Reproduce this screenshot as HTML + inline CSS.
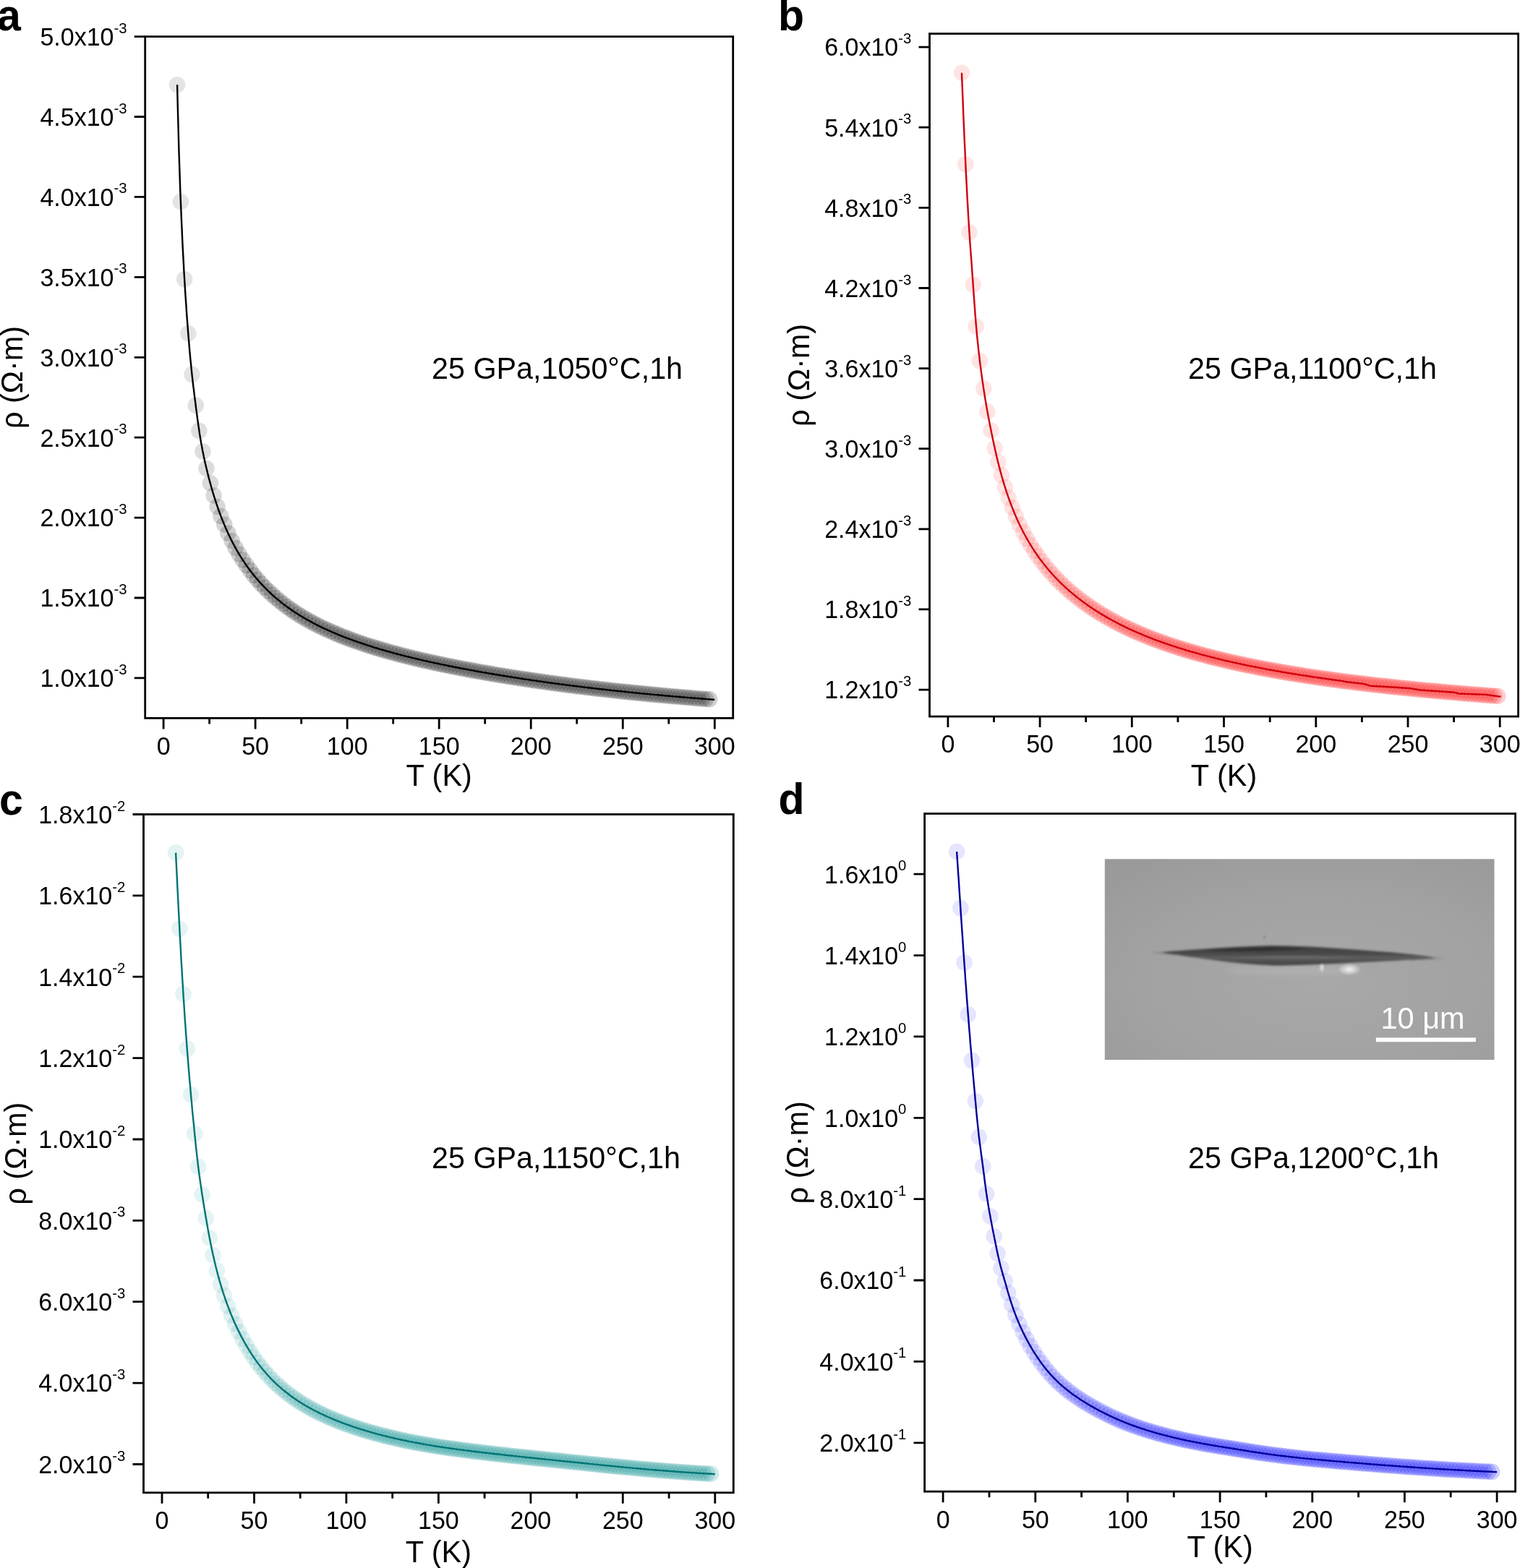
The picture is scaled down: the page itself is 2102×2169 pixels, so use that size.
<!DOCTYPE html>
<html><head><meta charset="utf-8"><title>Resistivity vs temperature</title><style>html,body{margin:0;padding:0;background:#fff;}svg{display:block;}</style></head><body>
<svg xmlns="http://www.w3.org/2000/svg" width="2102" height="2169" viewBox="0 0 2102 2169">
<rect width="2102" height="2169" fill="#fff"/>
<g fill="#000000">
<circle cx="245.1" cy="117.2" r="11.3" fill-opacity="0.105"/>
<circle cx="249.9" cy="279.0" r="11.3" fill-opacity="0.105"/>
<circle cx="255.1" cy="386.3" r="11.3" fill-opacity="0.105"/>
<circle cx="260.3" cy="461.2" r="11.3" fill-opacity="0.105"/>
<circle cx="265.4" cy="517.9" r="11.3" fill-opacity="0.107"/>
<circle cx="270.8" cy="560.8" r="11.3" fill-opacity="0.117"/>
<circle cx="275.3" cy="595.9" r="11.3" fill-opacity="0.124"/>
<circle cx="280.5" cy="624.6" r="11.3" fill-opacity="0.131"/>
<circle cx="285.5" cy="648.1" r="11.3" fill-opacity="0.137"/>
<circle cx="290.9" cy="668.4" r="11.3" fill-opacity="0.144"/>
<circle cx="295.6" cy="685.4" r="11.3" fill-opacity="0.149"/>
<circle cx="300.6" cy="701.0" r="11.3" fill-opacity="0.154"/>
<circle cx="305.4" cy="714.0" r="11.3" fill-opacity="0.158"/>
<circle cx="310.3" cy="725.6" r="11.3" fill-opacity="0.163"/>
<circle cx="315.4" cy="737.6" r="11.3" fill-opacity="0.167"/>
<circle cx="320.5" cy="748.1" r="11.3" fill-opacity="0.171"/>
<circle cx="325.5" cy="757.7" r="11.3" fill-opacity="0.175"/>
<circle cx="330.6" cy="766.5" r="11.3" fill-opacity="0.178"/>
<circle cx="335.7" cy="774.6" r="11.3" fill-opacity="0.182"/>
<circle cx="340.8" cy="782.1" r="11.3" fill-opacity="0.185"/>
<circle cx="345.9" cy="789.1" r="11.3" fill-opacity="0.185"/>
<circle cx="351.0" cy="795.7" r="11.3" fill-opacity="0.185"/>
<circle cx="356.0" cy="801.7" r="11.3" fill-opacity="0.185"/>
<circle cx="361.1" cy="807.4" r="11.3" fill-opacity="0.185"/>
<circle cx="366.2" cy="812.8" r="11.3" fill-opacity="0.185"/>
<circle cx="371.3" cy="817.8" r="11.3" fill-opacity="0.185"/>
<circle cx="376.4" cy="822.6" r="11.3" fill-opacity="0.185"/>
<circle cx="381.4" cy="827.1" r="11.3" fill-opacity="0.185"/>
<circle cx="386.5" cy="831.3" r="11.3" fill-opacity="0.185"/>
<circle cx="391.6" cy="835.3" r="11.3" fill-opacity="0.185"/>
<circle cx="396.7" cy="839.2" r="11.3" fill-opacity="0.185"/>
<circle cx="401.8" cy="842.8" r="11.3" fill-opacity="0.185"/>
<circle cx="406.8" cy="846.2" r="11.3" fill-opacity="0.185"/>
<circle cx="411.9" cy="849.5" r="11.3" fill-opacity="0.185"/>
<circle cx="417.0" cy="852.7" r="11.3" fill-opacity="0.185"/>
<circle cx="422.1" cy="855.7" r="11.3" fill-opacity="0.185"/>
<circle cx="427.2" cy="858.6" r="11.3" fill-opacity="0.185"/>
<circle cx="432.2" cy="861.3" r="11.3" fill-opacity="0.185"/>
<circle cx="437.3" cy="864.0" r="11.3" fill-opacity="0.185"/>
<circle cx="442.4" cy="866.5" r="11.3" fill-opacity="0.185"/>
<circle cx="447.5" cy="869.0" r="11.3" fill-opacity="0.185"/>
<circle cx="452.6" cy="871.3" r="11.3" fill-opacity="0.185"/>
<circle cx="457.7" cy="873.6" r="11.3" fill-opacity="0.185"/>
<circle cx="462.7" cy="875.8" r="11.3" fill-opacity="0.185"/>
<circle cx="467.8" cy="877.9" r="11.3" fill-opacity="0.185"/>
<circle cx="472.9" cy="880.0" r="11.3" fill-opacity="0.185"/>
<circle cx="478.0" cy="881.9" r="11.3" fill-opacity="0.185"/>
<circle cx="483.1" cy="883.9" r="11.3" fill-opacity="0.185"/>
<circle cx="488.1" cy="885.7" r="11.3" fill-opacity="0.185"/>
<circle cx="493.2" cy="887.5" r="11.3" fill-opacity="0.185"/>
<circle cx="498.3" cy="889.3" r="11.3" fill-opacity="0.185"/>
<circle cx="503.4" cy="891.0" r="11.3" fill-opacity="0.185"/>
<circle cx="508.5" cy="892.7" r="11.3" fill-opacity="0.185"/>
<circle cx="513.5" cy="894.3" r="11.3" fill-opacity="0.185"/>
<circle cx="518.6" cy="895.9" r="11.3" fill-opacity="0.185"/>
<circle cx="523.7" cy="897.4" r="11.3" fill-opacity="0.185"/>
<circle cx="528.8" cy="898.9" r="11.3" fill-opacity="0.185"/>
<circle cx="533.9" cy="900.4" r="11.3" fill-opacity="0.185"/>
<circle cx="539.0" cy="901.8" r="11.3" fill-opacity="0.185"/>
<circle cx="544.0" cy="903.2" r="11.3" fill-opacity="0.185"/>
<circle cx="549.1" cy="904.6" r="11.3" fill-opacity="0.185"/>
<circle cx="554.2" cy="905.9" r="11.3" fill-opacity="0.185"/>
<circle cx="559.3" cy="907.2" r="11.3" fill-opacity="0.185"/>
<circle cx="564.4" cy="908.5" r="11.3" fill-opacity="0.185"/>
<circle cx="569.4" cy="909.7" r="11.3" fill-opacity="0.185"/>
<circle cx="574.5" cy="911.0" r="11.3" fill-opacity="0.185"/>
<circle cx="579.6" cy="912.2" r="11.3" fill-opacity="0.185"/>
<circle cx="584.7" cy="913.4" r="11.3" fill-opacity="0.185"/>
<circle cx="589.8" cy="914.5" r="11.3" fill-opacity="0.185"/>
<circle cx="594.9" cy="915.6" r="11.3" fill-opacity="0.185"/>
<circle cx="599.9" cy="916.8" r="11.3" fill-opacity="0.185"/>
<circle cx="605.0" cy="917.9" r="11.3" fill-opacity="0.185"/>
<circle cx="610.1" cy="918.9" r="11.3" fill-opacity="0.185"/>
<circle cx="615.2" cy="920.0" r="11.3" fill-opacity="0.185"/>
<circle cx="620.3" cy="921.0" r="11.3" fill-opacity="0.185"/>
<circle cx="625.3" cy="922.1" r="11.3" fill-opacity="0.185"/>
<circle cx="630.4" cy="923.1" r="11.3" fill-opacity="0.185"/>
<circle cx="635.5" cy="924.0" r="11.3" fill-opacity="0.185"/>
<circle cx="640.6" cy="925.0" r="11.3" fill-opacity="0.185"/>
<circle cx="645.7" cy="926.0" r="11.3" fill-opacity="0.185"/>
<circle cx="650.7" cy="926.9" r="11.3" fill-opacity="0.185"/>
<circle cx="655.8" cy="927.9" r="11.3" fill-opacity="0.185"/>
<circle cx="660.9" cy="928.8" r="11.3" fill-opacity="0.185"/>
<circle cx="666.0" cy="929.7" r="11.3" fill-opacity="0.185"/>
<circle cx="671.1" cy="930.6" r="11.3" fill-opacity="0.185"/>
<circle cx="676.1" cy="931.4" r="11.3" fill-opacity="0.185"/>
<circle cx="681.2" cy="932.3" r="11.3" fill-opacity="0.185"/>
<circle cx="686.3" cy="933.2" r="11.3" fill-opacity="0.185"/>
<circle cx="691.4" cy="934.0" r="11.3" fill-opacity="0.185"/>
<circle cx="696.5" cy="934.8" r="11.3" fill-opacity="0.185"/>
<circle cx="701.6" cy="935.7" r="11.3" fill-opacity="0.185"/>
<circle cx="706.6" cy="936.5" r="11.3" fill-opacity="0.185"/>
<circle cx="711.7" cy="937.3" r="11.3" fill-opacity="0.185"/>
<circle cx="716.8" cy="938.1" r="11.3" fill-opacity="0.185"/>
<circle cx="721.9" cy="938.8" r="11.3" fill-opacity="0.185"/>
<circle cx="727.0" cy="939.6" r="11.3" fill-opacity="0.185"/>
<circle cx="732.0" cy="940.4" r="11.3" fill-opacity="0.185"/>
<circle cx="737.1" cy="941.1" r="11.3" fill-opacity="0.185"/>
<circle cx="742.2" cy="941.9" r="11.3" fill-opacity="0.185"/>
<circle cx="747.3" cy="942.6" r="11.3" fill-opacity="0.185"/>
<circle cx="752.4" cy="943.3" r="11.3" fill-opacity="0.185"/>
<circle cx="757.5" cy="944.0" r="11.3" fill-opacity="0.185"/>
<circle cx="762.5" cy="944.7" r="11.3" fill-opacity="0.185"/>
<circle cx="767.6" cy="945.4" r="11.3" fill-opacity="0.185"/>
<circle cx="772.7" cy="946.1" r="11.3" fill-opacity="0.185"/>
<circle cx="777.8" cy="946.8" r="11.3" fill-opacity="0.185"/>
<circle cx="782.9" cy="947.4" r="11.3" fill-opacity="0.185"/>
<circle cx="787.9" cy="948.1" r="11.3" fill-opacity="0.185"/>
<circle cx="793.0" cy="948.7" r="11.3" fill-opacity="0.185"/>
<circle cx="798.1" cy="949.4" r="11.3" fill-opacity="0.185"/>
<circle cx="803.2" cy="950.0" r="11.3" fill-opacity="0.185"/>
<circle cx="808.3" cy="950.6" r="11.3" fill-opacity="0.185"/>
<circle cx="813.3" cy="951.2" r="11.3" fill-opacity="0.185"/>
<circle cx="818.4" cy="951.8" r="11.3" fill-opacity="0.185"/>
<circle cx="823.5" cy="952.4" r="11.3" fill-opacity="0.185"/>
<circle cx="828.6" cy="953.0" r="11.3" fill-opacity="0.185"/>
<circle cx="833.7" cy="953.6" r="11.3" fill-opacity="0.185"/>
<circle cx="838.8" cy="954.1" r="11.3" fill-opacity="0.185"/>
<circle cx="843.8" cy="954.7" r="11.3" fill-opacity="0.185"/>
<circle cx="848.9" cy="955.3" r="11.3" fill-opacity="0.185"/>
<circle cx="854.0" cy="955.8" r="11.3" fill-opacity="0.185"/>
<circle cx="859.1" cy="956.4" r="11.3" fill-opacity="0.185"/>
<circle cx="864.2" cy="956.9" r="11.3" fill-opacity="0.185"/>
<circle cx="869.2" cy="957.4" r="11.3" fill-opacity="0.185"/>
<circle cx="874.3" cy="957.9" r="11.3" fill-opacity="0.185"/>
<circle cx="879.4" cy="958.4" r="11.3" fill-opacity="0.185"/>
<circle cx="884.5" cy="958.9" r="11.3" fill-opacity="0.185"/>
<circle cx="889.6" cy="959.4" r="11.3" fill-opacity="0.185"/>
<circle cx="894.6" cy="959.9" r="11.3" fill-opacity="0.185"/>
<circle cx="899.7" cy="960.4" r="11.3" fill-opacity="0.185"/>
<circle cx="904.8" cy="960.9" r="11.3" fill-opacity="0.185"/>
<circle cx="909.9" cy="961.4" r="11.3" fill-opacity="0.185"/>
<circle cx="915.0" cy="961.8" r="11.3" fill-opacity="0.185"/>
<circle cx="920.0" cy="962.3" r="11.3" fill-opacity="0.185"/>
<circle cx="925.1" cy="962.7" r="11.3" fill-opacity="0.185"/>
<circle cx="930.2" cy="963.2" r="11.3" fill-opacity="0.185"/>
<circle cx="935.3" cy="963.6" r="11.3" fill-opacity="0.185"/>
<circle cx="940.4" cy="964.1" r="11.3" fill-opacity="0.185"/>
<circle cx="945.5" cy="964.5" r="11.3" fill-opacity="0.185"/>
<circle cx="950.5" cy="964.9" r="11.3" fill-opacity="0.185"/>
<circle cx="955.6" cy="965.3" r="11.3" fill-opacity="0.185"/>
<circle cx="960.7" cy="965.8" r="11.3" fill-opacity="0.185"/>
<circle cx="965.8" cy="966.2" r="11.3" fill-opacity="0.185"/>
<circle cx="970.9" cy="966.6" r="11.3" fill-opacity="0.185"/>
<circle cx="975.9" cy="967.0" r="11.3" fill-opacity="0.185"/>
<circle cx="981.0" cy="967.3" r="11.3" fill-opacity="0.185"/>
</g>
<polyline fill="none" stroke="#000000" stroke-width="2.4" stroke-linejoin="round" points="245.1,117.2 245.7,144.4 246.4,169.5 247.0,192.6 247.6,214.0 248.3,233.9 248.9,252.4 249.5,269.8 250.2,286.1 250.8,301.4 251.5,315.9 252.1,329.7 252.7,342.7 253.4,355.1 254.0,366.9 254.6,378.2 255.3,389.0 255.9,399.3 256.5,409.3 257.2,418.8 257.8,428.1 258.4,437.0 259.1,445.6 259.7,453.9 260.3,462.0 261.0,469.8 261.6,477.4 262.2,484.8 262.9,491.8 263.5,498.7 264.2,505.2 264.8,511.5 265.4,517.5 266.1,523.3 266.7,528.8 267.3,534.2 268.0,539.4 268.6,544.6 269.2,549.6 269.9,554.6 270.5,559.5 271.1,564.5 271.8,569.4 272.4,574.2 273.0,579.0 273.7,583.7 274.3,588.2 275.0,592.6 275.6,596.9 276.2,601.0 276.9,604.9 277.5,608.7 278.1,612.4 278.8,615.9 279.4,619.3 280.0,622.7 280.7,625.9 281.3,629.0 281.9,632.0 282.6,635.0 283.2,637.9 283.8,640.7 284.5,643.5 285.1,646.2 285.8,648.9 286.4,651.5 287.0,654.1 287.7,656.6 288.3,659.1 288.9,661.6 289.6,664.0 290.2,666.4 290.8,668.7 291.5,671.0 292.1,673.3 292.7,675.5 293.4,677.7 294.0,679.9 294.6,682.0 295.3,684.1 295.9,686.2 296.5,688.2 297.2,690.2 297.8,692.2 298.5,694.2 299.1,696.1 299.7,698.0 300.4,699.9 301.0,701.7 301.6,703.5 302.3,705.3 302.9,707.1 303.5,708.8 304.2,710.6 304.8,712.3 305.4,713.9 306.1,715.6 306.7,717.2 307.3,718.8 308.0,720.4 308.6,722.0 309.3,723.6 309.9,725.1 310.5,726.6 311.2,728.1 311.8,729.6 312.4,731.0 313.1,732.5 313.7,733.9 314.3,735.3 315.0,736.7 315.6,738.1 316.2,739.4 316.9,740.8 317.5,742.1 318.1,743.4 318.8,744.7 319.4,746.0 320.0,747.3 320.7,748.5 321.3,749.8 322.0,751.0 322.6,752.2 323.2,753.4 323.9,754.6 324.5,755.8 325.1,756.9 325.8,758.1 326.4,759.2 327.0,760.3 327.7,761.4 327.7,761.6 330.3,765.9 332.8,770.1 335.4,774.1 337.9,777.9 340.4,781.6 343.0,785.2 345.5,788.7 348.1,792.0 350.6,795.2 353.1,798.3 355.7,801.3 358.2,804.2 360.8,807.1 363.3,809.8 365.8,812.4 368.4,815.0 370.9,817.5 373.5,819.9 376.0,822.3 378.5,824.5 381.1,826.8 383.6,828.9 386.2,831.0 388.7,833.1 391.2,835.1 393.8,837.0 396.3,838.9 398.9,840.7 401.4,842.5 403.9,844.3 406.5,846.0 409.0,847.7 411.6,849.3 414.1,850.9 416.7,852.5 419.2,854.0 421.7,855.5 424.3,857.0 426.8,858.4 429.4,859.8 431.9,861.1 434.4,862.5 437.0,863.8 439.5,865.1 442.1,866.3 444.6,867.6 447.1,868.8 449.7,870.0 452.2,871.2 454.8,872.3 457.3,873.4 459.8,874.5 462.4,875.6 464.9,876.7 467.5,877.8 470.0,878.8 472.5,879.8 475.1,880.8 477.6,881.8 480.2,882.8 482.7,883.7 485.2,884.7 487.8,885.6 490.3,886.5 492.9,887.4 495.4,888.3 498.0,889.2 500.5,890.0 503.0,890.9 505.6,891.7 508.1,892.6 510.7,893.4 513.2,894.2 515.7,895.0 518.3,895.8 520.8,896.5 523.4,897.3 525.9,898.1 528.4,898.8 531.0,899.5 533.5,900.3 536.1,901.0 538.6,901.7 541.1,902.4 543.7,903.1 546.2,903.8 548.8,904.5 551.3,905.1 553.8,905.8 556.4,906.5 558.9,907.1 561.5,907.8 564.0,908.4 566.5,909.0 569.1,909.7 571.6,910.3 574.2,910.9 576.7,911.5 579.3,912.1 581.8,912.7 584.3,913.3 586.9,913.9 589.4,914.4 592.0,915.0 594.5,915.6 597.0,916.1 599.6,916.7 602.1,917.2 604.7,917.8 607.2,918.3 609.7,918.9 612.3,919.4 614.8,919.9 617.4,920.4 619.9,921.0 622.4,921.5 625.0,922.0 627.5,922.5 630.1,923.0 632.6,923.5 635.1,924.0 637.7,924.5 640.2,925.0 642.8,925.4 645.3,925.9 647.8,926.4 650.4,926.9 652.9,927.3 655.5,927.8 658.0,928.3 660.6,928.7 663.1,929.2 665.6,929.6 668.2,930.1 670.7,930.5 673.3,930.9 675.8,931.4 678.3,931.8 680.9,932.3 683.4,932.7 686.0,933.1 688.5,933.5 691.0,934.0 693.6,934.4 696.1,934.8 698.7,935.2 701.2,935.6 703.7,936.0 706.3,936.4 708.8,936.8 711.4,937.2 713.9,937.6 716.4,938.0 719.0,938.4 721.5,938.8 724.1,939.2 726.6,939.6 729.2,939.9 731.7,940.3 734.2,940.7 736.8,941.1 739.3,941.4 741.9,941.8 744.4,942.2 746.9,942.5 749.5,942.9 752.0,943.3 754.6,943.6 757.1,944.0 759.6,944.3 762.2,944.7 764.7,945.0 767.3,945.4 769.8,945.7 772.3,946.0 774.9,946.4 777.4,946.7 780.0,947.0 782.5,947.4 785.0,947.7 787.6,948.0 790.1,948.4 792.7,948.7 795.2,949.0 797.7,949.3 800.3,949.6 802.8,949.9 805.4,950.3 807.9,950.6 810.5,950.9 813.0,951.2 815.5,951.5 818.1,951.8 820.6,952.1 823.2,952.4 825.7,952.7 828.2,953.0 830.8,953.2 833.3,953.5 835.9,953.8 838.4,954.1 840.9,954.4 843.5,954.7 846.0,955.0 848.6,955.2 851.1,955.5 853.6,955.8 856.2,956.0 858.7,956.3 861.3,956.6 863.8,956.8 866.3,957.1 868.9,957.4 871.4,957.6 874.0,957.9 876.5,958.2 879.0,958.4 881.6,958.7 884.1,958.9 886.7,959.2 889.2,959.4 891.8,959.7 894.3,959.9 896.8,960.1 899.4,960.4 901.9,960.6 904.5,960.9 907.0,961.1 909.5,961.3 912.1,961.6 914.6,961.8 917.2,962.0 919.7,962.3 922.2,962.5 924.8,962.7 927.3,962.9 929.9,963.2 932.4,963.4 934.9,963.6 937.5,963.8 940.0,964.0 942.6,964.3 945.1,964.5 947.6,964.7 950.2,964.9 952.7,965.1 955.3,965.3 957.8,965.5 960.3,965.7 962.9,965.9 965.4,966.1 968.0,966.3 970.5,966.5 973.0,966.7 975.6,966.9 978.1,967.1 980.7,967.3 983.2,967.5 985.8,967.7 988.3,967.9"/>
<rect x="200.7" y="50.6" width="813.0" height="942.8" fill="none" stroke="#000" stroke-width="2.8"/>
<path d="M226.1 993.4V1008.4M289.6 993.4V1001.4M353.1 993.4V1008.4M416.7 993.4V1001.4M480.2 993.4V1008.4M543.7 993.4V1001.4M607.2 993.4V1008.4M670.7 993.4V1001.4M734.2 993.4V1008.4M797.7 993.4V1001.4M861.3 993.4V1008.4M924.8 993.4V1001.4M988.3 993.4V1008.4M200.7 937.9H185.7M200.7 827.0H185.7M200.7 716.1H185.7M200.7 605.2H185.7M200.7 494.3H185.7M200.7 383.4H185.7M200.7 272.4H185.7M200.7 161.5H185.7M200.7 50.6H185.7" stroke="#000" stroke-width="2.8" fill="none"/>
<g font-family='"Liberation Sans", Arial, "Noto Sans CJK SC", sans-serif' font-size="34" fill="#000" text-anchor="middle">
<text transform="translate(226.1 1043.7) scale(1 1.040)">0</text>
<text transform="translate(353.1 1043.7) scale(1 1.040)">50</text>
<text transform="translate(480.2 1043.7) scale(1 1.040)">100</text>
<text transform="translate(607.2 1043.7) scale(1 1.040)">150</text>
<text transform="translate(734.2 1043.7) scale(1 1.040)">200</text>
<text transform="translate(861.3 1043.7) scale(1 1.040)">250</text>
<text transform="translate(988.3 1043.7) scale(1 1.040)">300</text>
</g>
<g font-family='"Liberation Sans", Arial, "Noto Sans CJK SC", sans-serif' font-size="34" fill="#000" text-anchor="end">
<text transform="translate(175.5 950.2) scale(1 1.040)">1.0x10<tspan font-size="20.3" dy="-16.6">-3</tspan></text>
<text transform="translate(175.5 839.3) scale(1 1.040)">1.5x10<tspan font-size="20.3" dy="-16.6">-3</tspan></text>
<text transform="translate(175.5 728.4) scale(1 1.040)">2.0x10<tspan font-size="20.3" dy="-16.6">-3</tspan></text>
<text transform="translate(175.5 617.5) scale(1 1.040)">2.5x10<tspan font-size="20.3" dy="-16.6">-3</tspan></text>
<text transform="translate(175.5 506.6) scale(1 1.040)">3.0x10<tspan font-size="20.3" dy="-16.6">-3</tspan></text>
<text transform="translate(175.5 395.7) scale(1 1.040)">3.5x10<tspan font-size="20.3" dy="-16.6">-3</tspan></text>
<text transform="translate(175.5 284.7) scale(1 1.040)">4.0x10<tspan font-size="20.3" dy="-16.6">-3</tspan></text>
<text transform="translate(175.5 173.8) scale(1 1.040)">4.5x10<tspan font-size="20.3" dy="-16.6">-3</tspan></text>
<text transform="translate(175.5 62.9) scale(1 1.040)">5.0x10<tspan font-size="20.3" dy="-16.6">-3</tspan></text>
</g>
<text transform="translate(607.2 1086.9) scale(1 1.040)" font-family='"Liberation Sans", Arial, "Noto Sans CJK SC", sans-serif' font-size="41.5" text-anchor="middle">T (K)</text>
<text transform="translate(31.1 522.0) rotate(-90) scale(1 1.040)" font-family='"Liberation Sans", Arial, "Noto Sans CJK SC", sans-serif' font-size="41.5" text-anchor="middle">ρ (Ω·m)</text>
<text transform="translate(597.0 524.0) scale(1 1.040)" font-family='"Liberation Sans", Arial, "Noto Sans CJK SC", sans-serif' font-size="41.3">25 GPa,1050°C,1h</text>
<text transform="translate(-4.0 42.0) scale(1 1.040)" font-family='"Liberation Sans", Arial, "Noto Sans CJK SC", sans-serif' font-size="59" font-weight="bold">a</text>
<g fill="#ff0000">
<circle cx="1330.0" cy="100.8" r="11.3" fill-opacity="0.105"/>
<circle cx="1335.3" cy="227.2" r="11.3" fill-opacity="0.105"/>
<circle cx="1340.5" cy="321.2" r="11.3" fill-opacity="0.105"/>
<circle cx="1345.7" cy="393.7" r="11.3" fill-opacity="0.105"/>
<circle cx="1350.0" cy="451.8" r="11.3" fill-opacity="0.105"/>
<circle cx="1354.9" cy="499.2" r="11.3" fill-opacity="0.105"/>
<circle cx="1360.4" cy="537.4" r="11.3" fill-opacity="0.105"/>
<circle cx="1365.3" cy="569.4" r="11.3" fill-opacity="0.105"/>
<circle cx="1370.5" cy="595.5" r="11.3" fill-opacity="0.105"/>
<circle cx="1375.8" cy="620.0" r="11.3" fill-opacity="0.105"/>
<circle cx="1380.3" cy="639.6" r="11.3" fill-opacity="0.105"/>
<circle cx="1384.9" cy="657.6" r="11.3" fill-opacity="0.105"/>
<circle cx="1389.8" cy="673.9" r="11.3" fill-opacity="0.107"/>
<circle cx="1394.7" cy="688.6" r="11.3" fill-opacity="0.110"/>
<circle cx="1399.8" cy="702.1" r="11.3" fill-opacity="0.113"/>
<circle cx="1404.9" cy="714.5" r="11.3" fill-opacity="0.116"/>
<circle cx="1410.0" cy="725.7" r="11.3" fill-opacity="0.119"/>
<circle cx="1415.1" cy="735.9" r="11.3" fill-opacity="0.121"/>
<circle cx="1420.1" cy="745.3" r="11.3" fill-opacity="0.124"/>
<circle cx="1425.2" cy="753.9" r="11.3" fill-opacity="0.126"/>
<circle cx="1430.3" cy="761.9" r="11.3" fill-opacity="0.129"/>
<circle cx="1435.4" cy="769.4" r="11.3" fill-opacity="0.131"/>
<circle cx="1440.5" cy="776.4" r="11.3" fill-opacity="0.133"/>
<circle cx="1445.6" cy="782.9" r="11.3" fill-opacity="0.135"/>
<circle cx="1450.7" cy="789.0" r="11.3" fill-opacity="0.137"/>
<circle cx="1455.8" cy="794.8" r="11.3" fill-opacity="0.139"/>
<circle cx="1460.8" cy="800.2" r="11.3" fill-opacity="0.141"/>
<circle cx="1465.9" cy="805.4" r="11.3" fill-opacity="0.142"/>
<circle cx="1471.0" cy="810.3" r="11.3" fill-opacity="0.144"/>
<circle cx="1476.1" cy="815.0" r="11.3" fill-opacity="0.146"/>
<circle cx="1481.2" cy="819.4" r="11.3" fill-opacity="0.147"/>
<circle cx="1486.3" cy="823.6" r="11.3" fill-opacity="0.149"/>
<circle cx="1491.4" cy="827.7" r="11.3" fill-opacity="0.150"/>
<circle cx="1496.5" cy="831.6" r="11.3" fill-opacity="0.152"/>
<circle cx="1501.6" cy="835.3" r="11.3" fill-opacity="0.153"/>
<circle cx="1506.6" cy="838.9" r="11.3" fill-opacity="0.155"/>
<circle cx="1511.7" cy="842.3" r="11.3" fill-opacity="0.156"/>
<circle cx="1516.8" cy="845.6" r="11.3" fill-opacity="0.157"/>
<circle cx="1521.9" cy="848.8" r="11.3" fill-opacity="0.159"/>
<circle cx="1527.0" cy="851.8" r="11.3" fill-opacity="0.160"/>
<circle cx="1532.1" cy="854.8" r="11.3" fill-opacity="0.161"/>
<circle cx="1537.2" cy="857.6" r="11.3" fill-opacity="0.162"/>
<circle cx="1542.3" cy="860.3" r="11.3" fill-opacity="0.164"/>
<circle cx="1547.3" cy="863.0" r="11.3" fill-opacity="0.165"/>
<circle cx="1552.4" cy="865.5" r="11.3" fill-opacity="0.166"/>
<circle cx="1557.5" cy="868.0" r="11.3" fill-opacity="0.167"/>
<circle cx="1562.6" cy="870.4" r="11.3" fill-opacity="0.168"/>
<circle cx="1567.7" cy="872.7" r="11.3" fill-opacity="0.169"/>
<circle cx="1572.8" cy="875.0" r="11.3" fill-opacity="0.170"/>
<circle cx="1577.9" cy="877.1" r="11.3" fill-opacity="0.171"/>
<circle cx="1583.0" cy="879.3" r="11.3" fill-opacity="0.172"/>
<circle cx="1588.0" cy="881.3" r="11.3" fill-opacity="0.173"/>
<circle cx="1593.1" cy="883.3" r="11.3" fill-opacity="0.174"/>
<circle cx="1598.2" cy="885.2" r="11.3" fill-opacity="0.175"/>
<circle cx="1603.3" cy="887.1" r="11.3" fill-opacity="0.176"/>
<circle cx="1608.4" cy="888.9" r="11.3" fill-opacity="0.177"/>
<circle cx="1613.5" cy="890.7" r="11.3" fill-opacity="0.178"/>
<circle cx="1618.6" cy="892.5" r="11.3" fill-opacity="0.179"/>
<circle cx="1623.7" cy="894.1" r="11.3" fill-opacity="0.179"/>
<circle cx="1628.8" cy="895.8" r="11.3" fill-opacity="0.180"/>
<circle cx="1633.8" cy="897.4" r="11.3" fill-opacity="0.181"/>
<circle cx="1638.9" cy="898.9" r="11.3" fill-opacity="0.182"/>
<circle cx="1644.0" cy="900.5" r="11.3" fill-opacity="0.183"/>
<circle cx="1649.1" cy="901.9" r="11.3" fill-opacity="0.184"/>
<circle cx="1654.2" cy="903.4" r="11.3" fill-opacity="0.184"/>
<circle cx="1659.3" cy="904.8" r="11.3" fill-opacity="0.185"/>
<circle cx="1664.4" cy="906.2" r="11.3" fill-opacity="0.186"/>
<circle cx="1669.5" cy="907.5" r="11.3" fill-opacity="0.187"/>
<circle cx="1674.5" cy="908.9" r="11.3" fill-opacity="0.187"/>
<circle cx="1679.6" cy="910.1" r="11.3" fill-opacity="0.188"/>
<circle cx="1684.7" cy="911.4" r="11.3" fill-opacity="0.189"/>
<circle cx="1689.8" cy="912.6" r="11.3" fill-opacity="0.190"/>
<circle cx="1694.9" cy="913.8" r="11.3" fill-opacity="0.190"/>
<circle cx="1700.0" cy="915.0" r="11.3" fill-opacity="0.190"/>
<circle cx="1705.1" cy="916.2" r="11.3" fill-opacity="0.190"/>
<circle cx="1710.2" cy="917.3" r="11.3" fill-opacity="0.190"/>
<circle cx="1715.3" cy="918.4" r="11.3" fill-opacity="0.190"/>
<circle cx="1720.3" cy="919.5" r="11.3" fill-opacity="0.190"/>
<circle cx="1725.4" cy="920.5" r="11.3" fill-opacity="0.190"/>
<circle cx="1730.5" cy="921.6" r="11.3" fill-opacity="0.190"/>
<circle cx="1735.6" cy="922.6" r="11.3" fill-opacity="0.190"/>
<circle cx="1740.7" cy="923.6" r="11.3" fill-opacity="0.190"/>
<circle cx="1745.8" cy="924.6" r="11.3" fill-opacity="0.190"/>
<circle cx="1750.9" cy="925.5" r="11.3" fill-opacity="0.190"/>
<circle cx="1756.0" cy="926.5" r="11.3" fill-opacity="0.190"/>
<circle cx="1761.0" cy="927.4" r="11.3" fill-opacity="0.190"/>
<circle cx="1766.1" cy="928.3" r="11.3" fill-opacity="0.190"/>
<circle cx="1771.2" cy="929.2" r="11.3" fill-opacity="0.190"/>
<circle cx="1776.3" cy="930.1" r="11.3" fill-opacity="0.190"/>
<circle cx="1781.4" cy="930.9" r="11.3" fill-opacity="0.190"/>
<circle cx="1786.5" cy="931.8" r="11.3" fill-opacity="0.190"/>
<circle cx="1791.6" cy="932.6" r="11.3" fill-opacity="0.190"/>
<circle cx="1796.7" cy="933.4" r="11.3" fill-opacity="0.190"/>
<circle cx="1801.8" cy="934.2" r="11.3" fill-opacity="0.190"/>
<circle cx="1806.8" cy="935.0" r="11.3" fill-opacity="0.190"/>
<circle cx="1811.9" cy="935.8" r="11.3" fill-opacity="0.190"/>
<circle cx="1817.0" cy="936.5" r="11.3" fill-opacity="0.190"/>
<circle cx="1822.1" cy="937.3" r="11.3" fill-opacity="0.190"/>
<circle cx="1827.2" cy="938.0" r="11.3" fill-opacity="0.190"/>
<circle cx="1832.3" cy="938.7" r="11.3" fill-opacity="0.190"/>
<circle cx="1837.4" cy="939.4" r="11.3" fill-opacity="0.190"/>
<circle cx="1842.5" cy="940.1" r="11.3" fill-opacity="0.190"/>
<circle cx="1847.5" cy="940.8" r="11.3" fill-opacity="0.190"/>
<circle cx="1852.6" cy="941.5" r="11.3" fill-opacity="0.190"/>
<circle cx="1857.7" cy="942.2" r="11.3" fill-opacity="0.190"/>
<circle cx="1862.8" cy="942.8" r="11.3" fill-opacity="0.190"/>
<circle cx="1867.9" cy="943.5" r="11.3" fill-opacity="0.190"/>
<circle cx="1873.0" cy="944.1" r="11.3" fill-opacity="0.190"/>
<circle cx="1878.1" cy="944.7" r="11.3" fill-opacity="0.190"/>
<circle cx="1883.2" cy="945.3" r="11.3" fill-opacity="0.190"/>
<circle cx="1888.2" cy="945.9" r="11.3" fill-opacity="0.190"/>
<circle cx="1893.3" cy="946.5" r="11.3" fill-opacity="0.190"/>
<circle cx="1898.4" cy="947.1" r="11.3" fill-opacity="0.190"/>
<circle cx="1903.5" cy="947.7" r="11.3" fill-opacity="0.190"/>
<circle cx="1908.6" cy="948.3" r="11.3" fill-opacity="0.190"/>
<circle cx="1913.7" cy="948.8" r="11.3" fill-opacity="0.190"/>
<circle cx="1918.8" cy="949.4" r="11.3" fill-opacity="0.190"/>
<circle cx="1923.9" cy="949.9" r="11.3" fill-opacity="0.190"/>
<circle cx="1929.0" cy="950.5" r="11.3" fill-opacity="0.190"/>
<circle cx="1934.0" cy="951.0" r="11.3" fill-opacity="0.190"/>
<circle cx="1939.1" cy="951.5" r="11.3" fill-opacity="0.190"/>
<circle cx="1944.2" cy="952.0" r="11.3" fill-opacity="0.190"/>
<circle cx="1949.3" cy="952.5" r="11.3" fill-opacity="0.190"/>
<circle cx="1954.4" cy="953.0" r="11.3" fill-opacity="0.190"/>
<circle cx="1959.5" cy="953.5" r="11.3" fill-opacity="0.190"/>
<circle cx="1964.6" cy="954.0" r="11.3" fill-opacity="0.190"/>
<circle cx="1969.7" cy="954.5" r="11.3" fill-opacity="0.190"/>
<circle cx="1974.7" cy="955.0" r="11.3" fill-opacity="0.190"/>
<circle cx="1979.8" cy="955.4" r="11.3" fill-opacity="0.190"/>
<circle cx="1984.9" cy="955.9" r="11.3" fill-opacity="0.190"/>
<circle cx="1990.0" cy="956.4" r="11.3" fill-opacity="0.190"/>
<circle cx="1995.1" cy="956.8" r="11.3" fill-opacity="0.190"/>
<circle cx="2000.2" cy="957.3" r="11.3" fill-opacity="0.190"/>
<circle cx="2005.3" cy="957.7" r="11.3" fill-opacity="0.190"/>
<circle cx="2010.4" cy="958.1" r="11.3" fill-opacity="0.190"/>
<circle cx="2015.5" cy="958.6" r="11.3" fill-opacity="0.190"/>
<circle cx="2020.5" cy="959.0" r="11.3" fill-opacity="0.190"/>
<circle cx="2025.6" cy="959.4" r="11.3" fill-opacity="0.190"/>
<circle cx="2030.7" cy="959.8" r="11.3" fill-opacity="0.190"/>
<circle cx="2035.8" cy="960.2" r="11.3" fill-opacity="0.190"/>
<circle cx="2040.9" cy="960.6" r="11.3" fill-opacity="0.190"/>
<circle cx="2046.0" cy="961.0" r="11.3" fill-opacity="0.190"/>
<circle cx="2051.1" cy="961.4" r="11.3" fill-opacity="0.190"/>
<circle cx="2056.2" cy="961.8" r="11.3" fill-opacity="0.190"/>
<circle cx="2061.2" cy="962.2" r="11.3" fill-opacity="0.190"/>
<circle cx="2066.3" cy="962.5" r="11.3" fill-opacity="0.190"/>
<circle cx="2071.4" cy="962.9" r="11.3" fill-opacity="0.190"/>
</g>
<polyline fill="none" stroke="#d0000c" stroke-width="2.4" stroke-linejoin="round" points="1330.0,100.8 1330.6,117.2 1331.3,133.4 1331.9,149.3 1332.5,164.9 1333.2,180.0 1333.8,194.7 1334.5,209.0 1335.1,222.8 1335.7,236.1 1336.4,248.9 1337.0,261.3 1337.6,273.2 1338.3,284.6 1338.9,295.5 1339.5,306.0 1340.2,316.1 1340.8,325.7 1341.4,335.0 1342.1,344.0 1342.7,352.8 1343.4,361.6 1344.0,370.3 1344.6,379.1 1345.3,387.9 1345.9,396.8 1346.5,405.9 1347.2,414.8 1347.8,423.7 1348.4,432.3 1349.1,440.5 1349.7,448.4 1350.4,455.8 1351.0,462.7 1351.6,469.2 1352.3,475.5 1352.9,481.4 1353.5,487.0 1354.2,492.5 1354.8,497.8 1355.4,502.9 1356.1,507.9 1356.7,512.8 1357.3,517.5 1358.0,522.2 1358.6,526.7 1359.3,531.1 1359.9,535.4 1360.5,539.6 1361.2,543.7 1361.8,547.7 1362.4,551.7 1363.1,555.5 1363.7,559.3 1364.3,562.9 1365.0,566.6 1365.6,570.1 1366.3,573.6 1366.9,577.0 1367.5,580.3 1368.2,583.6 1368.8,586.9 1369.4,590.1 1370.1,593.3 1370.7,596.4 1371.3,599.5 1372.0,602.6 1372.6,605.7 1373.2,608.7 1373.9,611.7 1374.5,614.7 1375.2,617.6 1375.8,620.5 1376.4,623.4 1377.1,626.2 1377.7,629.0 1378.3,631.7 1379.0,634.4 1379.6,637.0 1380.2,639.6 1380.9,642.1 1381.5,644.6 1382.2,647.1 1382.8,649.5 1383.4,651.9 1384.1,654.2 1384.7,656.6 1385.3,658.8 1386.0,661.0 1386.6,663.2 1387.2,665.4 1387.9,667.5 1388.5,669.6 1389.1,671.7 1389.8,673.7 1390.4,675.7 1391.1,677.7 1391.7,679.6 1392.3,681.6 1393.0,683.4 1393.6,685.3 1394.2,687.1 1394.9,689.0 1395.5,690.7 1396.1,692.5 1396.8,694.2 1397.4,696.0 1398.1,697.6 1398.7,699.3 1399.3,701.0 1400.0,702.6 1400.6,704.2 1401.2,705.8 1401.9,707.3 1402.5,708.9 1403.1,710.4 1403.8,711.9 1404.4,713.4 1405.0,714.9 1405.7,716.3 1406.3,717.8 1407.0,719.2 1407.6,720.6 1408.2,722.0 1408.9,723.3 1409.5,724.7 1410.1,726.0 1410.8,727.4 1411.4,728.7 1412.0,730.0 1412.7,731.2 1412.7,731.3 1415.2,736.3 1417.8,741.0 1420.3,745.6 1422.9,750.0 1425.4,754.2 1428.0,758.3 1430.5,762.2 1433.1,766.0 1435.6,769.7 1438.1,773.2 1440.7,776.6 1443.2,779.9 1445.8,783.1 1448.3,786.2 1450.9,789.2 1453.4,792.1 1456.0,795.0 1458.5,797.7 1461.0,800.4 1463.6,803.0 1466.1,805.6 1468.7,808.1 1471.2,810.5 1473.8,812.8 1476.3,815.1 1478.8,817.4 1481.4,819.6 1483.9,821.7 1486.5,823.8 1489.0,825.9 1491.6,827.9 1494.1,829.8 1496.7,831.7 1499.2,833.6 1501.7,835.4 1504.3,837.2 1506.8,839.0 1509.4,840.7 1511.9,842.4 1514.5,844.1 1517.0,845.7 1519.6,847.3 1522.1,848.9 1524.6,850.4 1527.2,851.9 1529.7,853.4 1532.3,854.9 1534.8,856.3 1537.4,857.7 1539.9,859.1 1542.5,860.4 1545.0,861.8 1547.5,863.1 1550.1,864.4 1552.6,865.6 1555.2,866.9 1557.7,868.1 1560.3,869.3 1562.8,870.5 1565.3,871.7 1567.9,872.8 1570.4,873.9 1573.0,875.1 1575.5,876.1 1578.1,877.2 1580.6,878.3 1583.2,879.3 1585.7,880.4 1588.2,881.4 1590.8,882.4 1593.3,883.4 1595.9,884.3 1598.4,885.3 1601.0,886.3 1603.5,887.2 1606.1,888.1 1608.6,889.0 1611.1,889.9 1613.7,890.8 1616.2,891.7 1618.8,892.5 1621.3,893.4 1623.9,894.2 1626.4,895.0 1628.9,895.8 1631.5,896.6 1634.0,897.4 1636.6,898.2 1639.1,899.0 1641.7,899.8 1644.2,900.5 1646.8,901.3 1649.3,902.0 1651.8,902.7 1654.4,903.4 1656.9,904.2 1659.5,904.9 1662.0,905.6 1664.6,906.2 1667.1,906.9 1669.7,907.6 1672.2,908.2 1674.7,908.9 1677.3,909.5 1679.8,910.2 1682.4,910.8 1684.9,911.4 1687.5,912.1 1690.0,912.7 1692.5,913.3 1695.1,913.9 1697.6,914.5 1700.2,915.1 1702.7,915.6 1705.3,916.2 1707.8,916.8 1710.4,917.3 1712.9,917.9 1715.4,918.4 1718.0,919.0 1720.5,919.5 1723.1,920.1 1725.6,920.6 1728.2,921.1 1730.7,921.6 1733.3,922.1 1735.8,922.6 1738.3,923.1 1740.9,923.6 1743.4,924.1 1746.0,924.6 1748.5,925.1 1751.1,925.6 1753.6,926.1 1756.2,926.5 1758.7,927.0 1761.2,927.4 1763.8,927.9 1766.3,928.3 1768.9,928.8 1771.4,929.2 1774.0,929.7 1776.5,930.1 1779.0,930.5 1781.6,931.0 1784.1,931.4 1786.7,931.8 1789.2,932.2 1791.8,932.6 1794.3,933.0 1796.9,933.5 1799.4,933.9 1801.9,934.2 1804.5,934.6 1807.0,935.0 1809.6,935.4 1812.1,935.8 1814.7,936.2 1817.2,936.6 1819.8,936.9 1822.3,937.3 1824.8,937.7 1827.4,938.0 1829.9,938.4 1832.5,938.8 1835.0,939.1 1837.6,939.5 1840.1,939.8 1842.6,940.2 1845.2,940.5 1847.7,940.9 1850.3,941.2 1852.8,941.5 1855.4,941.9 1857.9,942.2 1860.0,943.0 1885.5,945.9 1894.8,948.7 1929.5,950.7 1950.4,952.2 1964.3,954.5 2010.6,957.7 2017.6,959.5 2054.6,960.9 2075.5,963.8"/>
<rect x="1285.5" y="46.6" width="814.1" height="944.5" fill="none" stroke="#000" stroke-width="2.8"/>
<path d="M1310.9 991.1V1006.1M1374.5 991.1V999.1M1438.1 991.1V1006.1M1501.7 991.1V999.1M1565.3 991.1V1006.1M1628.9 991.1V999.1M1692.5 991.1V1006.1M1756.2 991.1V999.1M1819.8 991.1V1006.1M1883.4 991.1V999.1M1947.0 991.1V1006.1M2010.6 991.1V999.1M2074.2 991.1V1006.1M1285.5 954.1H1270.5M1285.5 842.9H1270.5M1285.5 731.8H1270.5M1285.5 620.7H1270.5M1285.5 509.6H1270.5M1285.5 398.5H1270.5M1285.5 287.4H1270.5M1285.5 176.2H1270.5M1285.5 65.1H1270.5" stroke="#000" stroke-width="2.8" fill="none"/>
<g font-family='"Liberation Sans", Arial, "Noto Sans CJK SC", sans-serif' font-size="34" fill="#000" text-anchor="middle">
<text transform="translate(1310.9 1041.4) scale(1 1.040)">0</text>
<text transform="translate(1438.1 1041.4) scale(1 1.040)">50</text>
<text transform="translate(1565.3 1041.4) scale(1 1.040)">100</text>
<text transform="translate(1692.5 1041.4) scale(1 1.040)">150</text>
<text transform="translate(1819.8 1041.4) scale(1 1.040)">200</text>
<text transform="translate(1947.0 1041.4) scale(1 1.040)">250</text>
<text transform="translate(2074.2 1041.4) scale(1 1.040)">300</text>
</g>
<g font-family='"Liberation Sans", Arial, "Noto Sans CJK SC", sans-serif' font-size="34" fill="#000" text-anchor="end">
<text transform="translate(1260.3 966.4) scale(1 1.040)">1.2x10<tspan font-size="20.3" dy="-16.6">-3</tspan></text>
<text transform="translate(1260.3 855.2) scale(1 1.040)">1.8x10<tspan font-size="20.3" dy="-16.6">-3</tspan></text>
<text transform="translate(1260.3 744.1) scale(1 1.040)">2.4x10<tspan font-size="20.3" dy="-16.6">-3</tspan></text>
<text transform="translate(1260.3 633.0) scale(1 1.040)">3.0x10<tspan font-size="20.3" dy="-16.6">-3</tspan></text>
<text transform="translate(1260.3 521.9) scale(1 1.040)">3.6x10<tspan font-size="20.3" dy="-16.6">-3</tspan></text>
<text transform="translate(1260.3 410.8) scale(1 1.040)">4.2x10<tspan font-size="20.3" dy="-16.6">-3</tspan></text>
<text transform="translate(1260.3 299.7) scale(1 1.040)">4.8x10<tspan font-size="20.3" dy="-16.6">-3</tspan></text>
<text transform="translate(1260.3 188.5) scale(1 1.040)">5.4x10<tspan font-size="20.3" dy="-16.6">-3</tspan></text>
<text transform="translate(1260.3 77.4) scale(1 1.040)">6.0x10<tspan font-size="20.3" dy="-16.6">-3</tspan></text>
</g>
<text transform="translate(1692.5 1086.5) scale(1 1.040)" font-family='"Liberation Sans", Arial, "Noto Sans CJK SC", sans-serif' font-size="41.5" text-anchor="middle">T (K)</text>
<text transform="translate(1118.8 518.9) rotate(-90) scale(1 1.040)" font-family='"Liberation Sans", Arial, "Noto Sans CJK SC", sans-serif' font-size="41.5" text-anchor="middle">ρ (Ω·m)</text>
<text transform="translate(1643.0 524.0) scale(1 1.040)" font-family='"Liberation Sans", Arial, "Noto Sans CJK SC", sans-serif' font-size="41.3">25 GPa,1100°C,1h</text>
<text transform="translate(1076.0 42.0) scale(1 1.040)" font-family='"Liberation Sans", Arial, "Noto Sans CJK SC", sans-serif' font-size="59" font-weight="bold">b</text>
<g fill="#008c8c">
<circle cx="243.1" cy="1179.6" r="11.3" fill-opacity="0.105"/>
<circle cx="248.3" cy="1284.7" r="11.3" fill-opacity="0.105"/>
<circle cx="253.5" cy="1374.9" r="11.3" fill-opacity="0.105"/>
<circle cx="258.7" cy="1450.6" r="11.3" fill-opacity="0.105"/>
<circle cx="264.0" cy="1514.3" r="11.3" fill-opacity="0.105"/>
<circle cx="269.2" cy="1568.2" r="11.3" fill-opacity="0.105"/>
<circle cx="274.1" cy="1613.9" r="11.3" fill-opacity="0.105"/>
<circle cx="279.6" cy="1652.4" r="11.3" fill-opacity="0.105"/>
<circle cx="284.9" cy="1685.1" r="11.3" fill-opacity="0.105"/>
<circle cx="289.8" cy="1712.5" r="11.3" fill-opacity="0.105"/>
<circle cx="294.7" cy="1736.3" r="11.3" fill-opacity="0.105"/>
<circle cx="299.9" cy="1757.6" r="11.3" fill-opacity="0.105"/>
<circle cx="305.1" cy="1777.1" r="11.3" fill-opacity="0.108"/>
<circle cx="310.0" cy="1791.8" r="11.3" fill-opacity="0.111"/>
<circle cx="315.1" cy="1806.8" r="11.3" fill-opacity="0.114"/>
<circle cx="320.2" cy="1819.8" r="11.3" fill-opacity="0.117"/>
<circle cx="325.3" cy="1831.5" r="11.3" fill-opacity="0.120"/>
<circle cx="330.4" cy="1842.3" r="11.3" fill-opacity="0.122"/>
<circle cx="335.5" cy="1852.2" r="11.3" fill-opacity="0.125"/>
<circle cx="340.6" cy="1861.3" r="11.3" fill-opacity="0.127"/>
<circle cx="345.7" cy="1869.7" r="11.3" fill-opacity="0.130"/>
<circle cx="350.8" cy="1877.5" r="11.3" fill-opacity="0.132"/>
<circle cx="355.9" cy="1884.7" r="11.3" fill-opacity="0.134"/>
<circle cx="361.0" cy="1891.3" r="11.3" fill-opacity="0.136"/>
<circle cx="366.1" cy="1897.5" r="11.3" fill-opacity="0.138"/>
<circle cx="371.2" cy="1903.3" r="11.3" fill-opacity="0.140"/>
<circle cx="376.3" cy="1908.7" r="11.3" fill-opacity="0.141"/>
<circle cx="381.4" cy="1913.7" r="11.3" fill-opacity="0.143"/>
<circle cx="386.5" cy="1918.4" r="11.3" fill-opacity="0.145"/>
<circle cx="391.6" cy="1922.7" r="11.3" fill-opacity="0.146"/>
<circle cx="396.7" cy="1926.8" r="11.3" fill-opacity="0.148"/>
<circle cx="401.8" cy="1930.7" r="11.3" fill-opacity="0.150"/>
<circle cx="406.9" cy="1934.3" r="11.3" fill-opacity="0.151"/>
<circle cx="412.0" cy="1937.8" r="11.3" fill-opacity="0.152"/>
<circle cx="417.1" cy="1941.0" r="11.3" fill-opacity="0.154"/>
<circle cx="422.2" cy="1944.1" r="11.3" fill-opacity="0.155"/>
<circle cx="427.3" cy="1947.0" r="11.3" fill-opacity="0.157"/>
<circle cx="432.4" cy="1949.8" r="11.3" fill-opacity="0.158"/>
<circle cx="437.5" cy="1952.4" r="11.3" fill-opacity="0.159"/>
<circle cx="442.6" cy="1955.0" r="11.3" fill-opacity="0.160"/>
<circle cx="447.7" cy="1957.4" r="11.3" fill-opacity="0.162"/>
<circle cx="452.8" cy="1959.7" r="11.3" fill-opacity="0.163"/>
<circle cx="457.9" cy="1961.9" r="11.3" fill-opacity="0.164"/>
<circle cx="463.0" cy="1964.1" r="11.3" fill-opacity="0.165"/>
<circle cx="468.1" cy="1966.1" r="11.3" fill-opacity="0.166"/>
<circle cx="473.2" cy="1968.1" r="11.3" fill-opacity="0.167"/>
<circle cx="478.3" cy="1970.0" r="11.3" fill-opacity="0.168"/>
<circle cx="483.4" cy="1971.8" r="11.3" fill-opacity="0.169"/>
<circle cx="488.5" cy="1973.6" r="11.3" fill-opacity="0.171"/>
<circle cx="493.6" cy="1975.3" r="11.3" fill-opacity="0.172"/>
<circle cx="498.7" cy="1976.9" r="11.3" fill-opacity="0.173"/>
<circle cx="503.8" cy="1978.5" r="11.3" fill-opacity="0.173"/>
<circle cx="508.9" cy="1980.0" r="11.3" fill-opacity="0.174"/>
<circle cx="514.0" cy="1981.5" r="11.3" fill-opacity="0.175"/>
<circle cx="519.0" cy="1982.9" r="11.3" fill-opacity="0.176"/>
<circle cx="524.1" cy="1984.3" r="11.3" fill-opacity="0.177"/>
<circle cx="529.2" cy="1985.6" r="11.3" fill-opacity="0.178"/>
<circle cx="534.3" cy="1986.9" r="11.3" fill-opacity="0.179"/>
<circle cx="539.4" cy="1988.1" r="11.3" fill-opacity="0.180"/>
<circle cx="544.5" cy="1989.3" r="11.3" fill-opacity="0.181"/>
<circle cx="549.6" cy="1990.5" r="11.3" fill-opacity="0.182"/>
<circle cx="554.7" cy="1991.6" r="11.3" fill-opacity="0.182"/>
<circle cx="559.8" cy="1992.7" r="11.3" fill-opacity="0.183"/>
<circle cx="564.9" cy="1993.7" r="11.3" fill-opacity="0.184"/>
<circle cx="570.0" cy="1994.7" r="11.3" fill-opacity="0.185"/>
<circle cx="575.1" cy="1995.7" r="11.3" fill-opacity="0.185"/>
<circle cx="580.2" cy="1996.7" r="11.3" fill-opacity="0.186"/>
<circle cx="585.3" cy="1997.6" r="11.3" fill-opacity="0.187"/>
<circle cx="590.4" cy="1998.5" r="11.3" fill-opacity="0.188"/>
<circle cx="595.5" cy="1999.3" r="11.3" fill-opacity="0.188"/>
<circle cx="600.6" cy="2000.2" r="11.3" fill-opacity="0.189"/>
<circle cx="605.7" cy="2001.0" r="11.3" fill-opacity="0.190"/>
<circle cx="610.8" cy="2001.7" r="11.3" fill-opacity="0.190"/>
<circle cx="615.9" cy="2002.5" r="11.3" fill-opacity="0.190"/>
<circle cx="621.0" cy="2003.2" r="11.3" fill-opacity="0.190"/>
<circle cx="626.1" cy="2003.9" r="11.3" fill-opacity="0.190"/>
<circle cx="631.2" cy="2004.6" r="11.3" fill-opacity="0.190"/>
<circle cx="636.3" cy="2005.3" r="11.3" fill-opacity="0.190"/>
<circle cx="641.4" cy="2006.0" r="11.3" fill-opacity="0.190"/>
<circle cx="646.5" cy="2006.6" r="11.3" fill-opacity="0.190"/>
<circle cx="651.6" cy="2007.3" r="11.3" fill-opacity="0.190"/>
<circle cx="656.7" cy="2007.9" r="11.3" fill-opacity="0.190"/>
<circle cx="661.8" cy="2008.5" r="11.3" fill-opacity="0.190"/>
<circle cx="666.9" cy="2009.1" r="11.3" fill-opacity="0.190"/>
<circle cx="672.0" cy="2009.7" r="11.3" fill-opacity="0.190"/>
<circle cx="677.1" cy="2010.3" r="11.3" fill-opacity="0.190"/>
<circle cx="682.2" cy="2010.9" r="11.3" fill-opacity="0.190"/>
<circle cx="687.3" cy="2011.5" r="11.3" fill-opacity="0.190"/>
<circle cx="692.4" cy="2012.0" r="11.3" fill-opacity="0.190"/>
<circle cx="697.5" cy="2012.6" r="11.3" fill-opacity="0.190"/>
<circle cx="702.6" cy="2013.2" r="11.3" fill-opacity="0.190"/>
<circle cx="707.7" cy="2013.7" r="11.3" fill-opacity="0.190"/>
<circle cx="712.8" cy="2014.3" r="11.3" fill-opacity="0.190"/>
<circle cx="717.9" cy="2014.8" r="11.3" fill-opacity="0.190"/>
<circle cx="723.0" cy="2015.3" r="11.3" fill-opacity="0.190"/>
<circle cx="728.1" cy="2015.9" r="11.3" fill-opacity="0.190"/>
<circle cx="733.2" cy="2016.4" r="11.3" fill-opacity="0.190"/>
<circle cx="738.3" cy="2016.9" r="11.3" fill-opacity="0.190"/>
<circle cx="743.4" cy="2017.5" r="11.3" fill-opacity="0.190"/>
<circle cx="748.5" cy="2018.0" r="11.3" fill-opacity="0.190"/>
<circle cx="753.6" cy="2018.5" r="11.3" fill-opacity="0.190"/>
<circle cx="758.7" cy="2019.1" r="11.3" fill-opacity="0.190"/>
<circle cx="763.8" cy="2019.6" r="11.3" fill-opacity="0.190"/>
<circle cx="768.9" cy="2020.1" r="11.3" fill-opacity="0.190"/>
<circle cx="774.0" cy="2020.6" r="11.3" fill-opacity="0.190"/>
<circle cx="779.1" cy="2021.1" r="11.3" fill-opacity="0.190"/>
<circle cx="784.2" cy="2021.7" r="11.3" fill-opacity="0.190"/>
<circle cx="789.3" cy="2022.2" r="11.3" fill-opacity="0.190"/>
<circle cx="794.4" cy="2022.7" r="11.3" fill-opacity="0.190"/>
<circle cx="799.5" cy="2023.2" r="11.3" fill-opacity="0.190"/>
<circle cx="804.6" cy="2023.8" r="11.3" fill-opacity="0.190"/>
<circle cx="809.7" cy="2024.3" r="11.3" fill-opacity="0.190"/>
<circle cx="814.8" cy="2024.8" r="11.3" fill-opacity="0.190"/>
<circle cx="819.9" cy="2025.3" r="11.3" fill-opacity="0.190"/>
<circle cx="825.0" cy="2025.8" r="11.3" fill-opacity="0.190"/>
<circle cx="830.1" cy="2026.4" r="11.3" fill-opacity="0.190"/>
<circle cx="835.2" cy="2026.9" r="11.3" fill-opacity="0.190"/>
<circle cx="840.3" cy="2027.4" r="11.3" fill-opacity="0.190"/>
<circle cx="845.4" cy="2027.9" r="11.3" fill-opacity="0.190"/>
<circle cx="850.5" cy="2028.4" r="11.3" fill-opacity="0.190"/>
<circle cx="855.6" cy="2028.9" r="11.3" fill-opacity="0.190"/>
<circle cx="860.7" cy="2029.4" r="11.3" fill-opacity="0.190"/>
<circle cx="865.8" cy="2029.8" r="11.3" fill-opacity="0.190"/>
<circle cx="870.9" cy="2030.3" r="11.3" fill-opacity="0.190"/>
<circle cx="876.0" cy="2030.8" r="11.3" fill-opacity="0.190"/>
<circle cx="881.1" cy="2031.3" r="11.3" fill-opacity="0.190"/>
<circle cx="886.2" cy="2031.7" r="11.3" fill-opacity="0.190"/>
<circle cx="891.3" cy="2032.2" r="11.3" fill-opacity="0.190"/>
<circle cx="896.4" cy="2032.6" r="11.3" fill-opacity="0.190"/>
<circle cx="901.5" cy="2033.0" r="11.3" fill-opacity="0.190"/>
<circle cx="906.6" cy="2033.5" r="11.3" fill-opacity="0.190"/>
<circle cx="911.7" cy="2033.9" r="11.3" fill-opacity="0.190"/>
<circle cx="916.8" cy="2034.3" r="11.3" fill-opacity="0.190"/>
<circle cx="921.9" cy="2034.7" r="11.3" fill-opacity="0.190"/>
<circle cx="926.9" cy="2035.1" r="11.3" fill-opacity="0.190"/>
<circle cx="932.0" cy="2035.5" r="11.3" fill-opacity="0.190"/>
<circle cx="937.1" cy="2035.8" r="11.3" fill-opacity="0.190"/>
<circle cx="942.2" cy="2036.2" r="11.3" fill-opacity="0.190"/>
<circle cx="947.3" cy="2036.6" r="11.3" fill-opacity="0.190"/>
<circle cx="952.4" cy="2036.9" r="11.3" fill-opacity="0.190"/>
<circle cx="957.5" cy="2037.2" r="11.3" fill-opacity="0.190"/>
<circle cx="962.6" cy="2037.6" r="11.3" fill-opacity="0.190"/>
<circle cx="967.7" cy="2037.9" r="11.3" fill-opacity="0.190"/>
<circle cx="972.8" cy="2038.2" r="11.3" fill-opacity="0.190"/>
<circle cx="977.9" cy="2038.5" r="11.3" fill-opacity="0.190"/>
<circle cx="983.0" cy="2038.8" r="11.3" fill-opacity="0.190"/>
</g>
<polyline fill="none" stroke="#007373" stroke-width="2.4" stroke-linejoin="round" points="243.1,1179.6 243.7,1193.0 244.4,1206.2 245.0,1219.4 245.6,1232.4 246.3,1245.2 246.9,1257.9 247.6,1270.4 248.2,1282.6 248.8,1294.6 249.5,1306.4 250.1,1317.9 250.7,1329.2 251.4,1340.3 252.0,1351.1 252.7,1361.7 253.3,1372.0 253.9,1382.1 254.6,1391.9 255.2,1401.6 255.8,1411.0 256.5,1420.1 257.1,1429.1 257.8,1437.9 258.4,1446.4 259.0,1454.8 259.7,1462.9 260.3,1470.9 260.9,1478.7 261.6,1486.3 262.2,1493.9 262.9,1501.2 263.5,1508.5 264.1,1515.6 264.8,1522.6 265.4,1529.5 266.0,1536.3 266.7,1543.0 267.3,1549.6 268.0,1556.2 268.6,1562.6 269.2,1569.0 269.9,1575.2 270.5,1581.4 271.1,1587.5 271.8,1593.4 272.4,1599.1 273.1,1604.7 273.7,1610.1 274.3,1615.3 275.0,1620.3 275.6,1625.1 276.2,1629.7 276.9,1634.3 277.5,1638.7 278.2,1643.1 278.8,1647.3 279.4,1651.5 280.1,1655.6 280.7,1659.7 281.3,1663.7 282.0,1667.7 282.6,1671.6 283.3,1675.5 283.9,1679.3 284.5,1683.1 285.2,1686.8 285.8,1690.5 286.4,1694.1 287.1,1697.7 287.7,1701.2 288.4,1704.7 289.0,1708.1 289.6,1711.4 290.3,1714.7 290.9,1718.0 291.5,1721.1 292.2,1724.3 292.8,1727.3 293.5,1730.4 294.1,1733.3 294.7,1736.2 295.4,1739.1 296.0,1741.8 296.6,1744.6 297.3,1747.3 297.9,1749.9 298.5,1752.5 299.2,1755.0 299.8,1757.5 300.5,1760.0 301.1,1762.4 301.7,1764.8 302.4,1767.1 303.0,1769.4 303.6,1771.6 304.3,1773.9 304.9,1776.0 305.6,1778.2 306.2,1780.3 306.8,1782.4 307.5,1784.4 308.1,1786.5 308.7,1788.4 309.4,1790.4 310.0,1792.3 310.7,1794.2 311.3,1796.1 311.9,1798.0 312.6,1799.8 313.2,1801.6 313.8,1803.3 314.5,1805.1 315.1,1806.8 315.8,1808.5 316.4,1810.2 317.0,1811.8 317.7,1813.5 318.3,1815.1 318.9,1816.7 319.6,1818.3 320.2,1819.8 320.9,1821.3 321.5,1822.9 322.1,1824.4 322.8,1825.8 323.4,1827.3 324.0,1828.7 324.7,1830.2 325.3,1831.6 326.0,1833.0 326.0,1833.0 328.5,1838.4 331.1,1843.6 333.6,1848.6 336.2,1853.4 338.7,1858.0 341.3,1862.4 343.8,1866.7 346.4,1870.7 348.9,1874.7 351.5,1878.4 354.0,1882.1 356.6,1885.6 359.1,1888.9 361.7,1892.2 364.2,1895.3 366.8,1898.3 369.3,1901.2 371.9,1904.0 374.4,1906.8 377.0,1909.4 379.5,1911.9 382.1,1914.3 384.6,1916.7 387.2,1918.9 389.7,1921.1 392.3,1923.3 394.8,1925.3 397.4,1927.3 399.9,1929.3 402.4,1931.2 405.0,1933.0 407.5,1934.8 410.1,1936.5 412.6,1938.2 415.2,1939.8 417.7,1941.4 420.3,1943.0 422.8,1944.5 425.4,1946.0 427.9,1947.4 430.5,1948.8 433.0,1950.2 435.6,1951.5 438.1,1952.8 440.7,1954.1 443.2,1955.3 445.8,1956.5 448.3,1957.7 450.9,1958.9 453.4,1960.0 456.0,1961.1 458.5,1962.2 461.1,1963.3 463.6,1964.3 466.2,1965.4 468.7,1966.4 471.3,1967.4 473.8,1968.3 476.4,1969.3 478.9,1970.2 481.5,1971.1 484.0,1972.0 486.6,1972.9 489.1,1973.8 491.7,1974.6 494.2,1975.5 496.8,1976.3 499.3,1977.1 501.9,1977.9 504.4,1978.7 507.0,1979.4 509.5,1980.2 512.1,1980.9 514.6,1981.7 517.2,1982.4 519.7,1983.1 522.3,1983.8 524.8,1984.4 527.4,1985.1 529.9,1985.8 532.5,1986.4 535.0,1987.0 537.6,1987.7 540.1,1988.3 542.7,1988.9 545.2,1989.5 547.8,1990.1 550.3,1990.6 552.9,1991.2 555.4,1991.7 558.0,1992.3 560.5,1992.8 563.1,1993.3 565.6,1993.9 568.2,1994.4 570.7,1994.9 573.3,1995.4 575.8,1995.8 578.4,1996.3 580.9,1996.8 583.5,1997.3 586.0,1997.7 588.6,1998.1 591.1,1998.6 593.7,1999.0 596.2,1999.4 598.8,1999.9 601.3,2000.3 603.9,2000.7 606.4,2001.1 608.9,2001.5 611.5,2001.8 614.0,2002.2 616.6,2002.6 619.1,2003.0 621.7,2003.3 624.2,2003.7 626.8,2004.0 629.3,2004.4 631.9,2004.7 634.4,2005.1 637.0,2005.4 639.5,2005.7 642.1,2006.1 644.6,2006.4 647.2,2006.7 649.7,2007.0 652.3,2007.4 654.8,2007.7 657.4,2008.0 659.9,2008.3 662.5,2008.6 665.0,2008.9 667.6,2009.2 670.1,2009.5 672.7,2009.8 675.2,2010.1 677.8,2010.4 680.3,2010.7 682.9,2011.0 685.4,2011.3 688.0,2011.5 690.5,2011.8 693.1,2012.1 695.6,2012.4 698.2,2012.7 700.7,2013.0 703.3,2013.2 705.8,2013.5 708.4,2013.8 710.9,2014.1 713.5,2014.3 716.0,2014.6 718.6,2014.9 721.1,2015.1 723.7,2015.4 726.2,2015.7 728.8,2016.0 731.3,2016.2 733.9,2016.5 736.4,2016.8 739.0,2017.0 741.5,2017.3 744.1,2017.5 746.6,2017.8 749.2,2018.1 751.7,2018.3 754.3,2018.6 756.8,2018.9 759.4,2019.1 761.9,2019.4 764.5,2019.6 767.0,2019.9 769.6,2020.2 772.1,2020.4 774.7,2020.7 777.2,2021.0 779.8,2021.2 782.3,2021.5 784.9,2021.7 787.4,2022.0 790.0,2022.3 792.5,2022.5 795.1,2022.8 797.6,2023.0 800.2,2023.3 802.7,2023.6 805.3,2023.8 807.8,2024.1 810.4,2024.3 812.9,2024.6 815.4,2024.9 818.0,2025.1 820.5,2025.4 823.1,2025.6 825.6,2025.9 828.2,2026.2 830.7,2026.4 833.3,2026.7 835.8,2026.9 838.4,2027.2 840.9,2027.4 843.5,2027.7 846.0,2027.9 848.6,2028.2 851.1,2028.4 853.7,2028.7 856.2,2028.9 858.8,2029.2 861.3,2029.4 863.9,2029.7 866.4,2029.9 869.0,2030.1 871.5,2030.4 874.1,2030.6 876.6,2030.9 879.2,2031.1 881.7,2031.3 884.3,2031.5 886.8,2031.8 889.4,2032.0 891.9,2032.2 894.5,2032.4 897.0,2032.7 899.6,2032.9 902.1,2033.1 904.7,2033.3 907.2,2033.5 909.8,2033.7 912.3,2033.9 914.9,2034.1 917.4,2034.3 920.0,2034.5 922.5,2034.7 925.1,2034.9 927.6,2035.1 930.2,2035.3 932.7,2035.5 935.3,2035.7 937.8,2035.9 940.4,2036.1 942.9,2036.2 945.5,2036.4 948.0,2036.6 950.6,2036.8 953.1,2036.9 955.7,2037.1 958.2,2037.3 960.8,2037.4 963.3,2037.6 965.9,2037.8 968.4,2037.9 971.0,2038.1 973.5,2038.2 976.1,2038.4 978.6,2038.5 981.2,2038.7 983.7,2038.8 986.3,2039.0 988.8,2039.1"/>
<rect x="198.5" y="1126.5" width="815.8" height="938.3" fill="none" stroke="#000" stroke-width="2.8"/>
<path d="M224.0 2064.8V2079.8M287.7 2064.8V2072.8M351.5 2064.8V2079.8M415.2 2064.8V2072.8M478.9 2064.8V2079.8M542.7 2064.8V2072.8M606.4 2064.8V2079.8M670.1 2064.8V2072.8M733.9 2064.8V2079.8M797.6 2064.8V2072.8M861.3 2064.8V2079.8M925.1 2064.8V2072.8M988.8 2064.8V2079.8M198.5 2025.5H183.5M198.5 1913.1H183.5M198.5 1800.7H183.5M198.5 1688.4H183.5M198.5 1576.0H183.5M198.5 1463.6H183.5M198.5 1351.2H183.5M198.5 1238.9H183.5M198.5 1126.5H183.5" stroke="#000" stroke-width="2.8" fill="none"/>
<g font-family='"Liberation Sans", Arial, "Noto Sans CJK SC", sans-serif' font-size="34" fill="#000" text-anchor="middle">
<text transform="translate(224.0 2115.1) scale(1 1.040)">0</text>
<text transform="translate(351.5 2115.1) scale(1 1.040)">50</text>
<text transform="translate(478.9 2115.1) scale(1 1.040)">100</text>
<text transform="translate(606.4 2115.1) scale(1 1.040)">150</text>
<text transform="translate(733.9 2115.1) scale(1 1.040)">200</text>
<text transform="translate(861.3 2115.1) scale(1 1.040)">250</text>
<text transform="translate(988.8 2115.1) scale(1 1.040)">300</text>
</g>
<g font-family='"Liberation Sans", Arial, "Noto Sans CJK SC", sans-serif' font-size="34" fill="#000" text-anchor="end">
<text transform="translate(173.3 2037.8) scale(1 1.040)">2.0x10<tspan font-size="20.3" dy="-16.6">-3</tspan></text>
<text transform="translate(173.3 1925.4) scale(1 1.040)">4.0x10<tspan font-size="20.3" dy="-16.6">-3</tspan></text>
<text transform="translate(173.3 1813.0) scale(1 1.040)">6.0x10<tspan font-size="20.3" dy="-16.6">-3</tspan></text>
<text transform="translate(173.3 1700.7) scale(1 1.040)">8.0x10<tspan font-size="20.3" dy="-16.6">-3</tspan></text>
<text transform="translate(173.3 1588.3) scale(1 1.040)">1.0x10<tspan font-size="20.3" dy="-16.6">-2</tspan></text>
<text transform="translate(173.3 1475.9) scale(1 1.040)">1.2x10<tspan font-size="20.3" dy="-16.6">-2</tspan></text>
<text transform="translate(173.3 1363.5) scale(1 1.040)">1.4x10<tspan font-size="20.3" dy="-16.6">-2</tspan></text>
<text transform="translate(173.3 1251.2) scale(1 1.040)">1.6x10<tspan font-size="20.3" dy="-16.6">-2</tspan></text>
<text transform="translate(173.3 1138.8) scale(1 1.040)">1.8x10<tspan font-size="20.3" dy="-16.6">-2</tspan></text>
</g>
<text transform="translate(606.4 2160.9) scale(1 1.040)" font-family='"Liberation Sans", Arial, "Noto Sans CJK SC", sans-serif' font-size="41.5" text-anchor="middle">T (K)</text>
<text transform="translate(35.7 1595.7) rotate(-90) scale(1 1.040)" font-family='"Liberation Sans", Arial, "Noto Sans CJK SC", sans-serif' font-size="41.5" text-anchor="middle">ρ (Ω·m)</text>
<text transform="translate(597.0 1616.0) scale(1 1.040)" font-family='"Liberation Sans", Arial, "Noto Sans CJK SC", sans-serif' font-size="41.3">25 GPa,1150°C,1h</text>
<text transform="translate(-1.0 1126.5) scale(1 1.040)" font-family='"Liberation Sans", Arial, "Noto Sans CJK SC", sans-serif' font-size="59" font-weight="bold">c</text>
<g fill="#0000ff">
<circle cx="1323.1" cy="1178.0" r="11.3" fill-opacity="0.100"/>
<circle cx="1328.3" cy="1256.3" r="11.3" fill-opacity="0.100"/>
<circle cx="1333.5" cy="1331.4" r="11.3" fill-opacity="0.100"/>
<circle cx="1338.7" cy="1403.3" r="11.3" fill-opacity="0.100"/>
<circle cx="1344.0" cy="1466.9" r="11.3" fill-opacity="0.100"/>
<circle cx="1348.9" cy="1523.1" r="11.3" fill-opacity="0.100"/>
<circle cx="1353.9" cy="1572.9" r="11.3" fill-opacity="0.100"/>
<circle cx="1359.2" cy="1613.2" r="11.3" fill-opacity="0.100"/>
<circle cx="1364.2" cy="1651.4" r="11.3" fill-opacity="0.100"/>
<circle cx="1369.4" cy="1682.4" r="11.3" fill-opacity="0.100"/>
<circle cx="1374.7" cy="1710.2" r="11.3" fill-opacity="0.100"/>
<circle cx="1379.6" cy="1734.0" r="11.3" fill-opacity="0.100"/>
<circle cx="1384.4" cy="1754.3" r="11.3" fill-opacity="0.103"/>
<circle cx="1389.7" cy="1772.2" r="11.3" fill-opacity="0.106"/>
<circle cx="1394.2" cy="1788.6" r="11.3" fill-opacity="0.109"/>
<circle cx="1399.3" cy="1804.7" r="11.3" fill-opacity="0.112"/>
<circle cx="1404.4" cy="1819.0" r="11.3" fill-opacity="0.115"/>
<circle cx="1409.5" cy="1831.5" r="11.3" fill-opacity="0.118"/>
<circle cx="1414.6" cy="1842.7" r="11.3" fill-opacity="0.120"/>
<circle cx="1419.7" cy="1852.7" r="11.3" fill-opacity="0.123"/>
<circle cx="1424.8" cy="1861.9" r="11.3" fill-opacity="0.125"/>
<circle cx="1429.9" cy="1870.4" r="11.3" fill-opacity="0.128"/>
<circle cx="1435.0" cy="1878.3" r="11.3" fill-opacity="0.130"/>
<circle cx="1440.2" cy="1885.6" r="11.3" fill-opacity="0.132"/>
<circle cx="1445.3" cy="1892.3" r="11.3" fill-opacity="0.134"/>
<circle cx="1450.4" cy="1898.5" r="11.3" fill-opacity="0.136"/>
<circle cx="1455.5" cy="1904.2" r="11.3" fill-opacity="0.138"/>
<circle cx="1460.6" cy="1909.4" r="11.3" fill-opacity="0.140"/>
<circle cx="1465.7" cy="1914.2" r="11.3" fill-opacity="0.142"/>
<circle cx="1470.8" cy="1918.7" r="11.3" fill-opacity="0.143"/>
<circle cx="1475.9" cy="1922.9" r="11.3" fill-opacity="0.145"/>
<circle cx="1481.0" cy="1926.8" r="11.3" fill-opacity="0.147"/>
<circle cx="1486.1" cy="1930.5" r="11.3" fill-opacity="0.148"/>
<circle cx="1491.2" cy="1934.0" r="11.3" fill-opacity="0.150"/>
<circle cx="1496.3" cy="1937.4" r="11.3" fill-opacity="0.151"/>
<circle cx="1501.4" cy="1940.5" r="11.3" fill-opacity="0.153"/>
<circle cx="1506.5" cy="1943.6" r="11.3" fill-opacity="0.154"/>
<circle cx="1511.6" cy="1946.5" r="11.3" fill-opacity="0.156"/>
<circle cx="1516.8" cy="1949.4" r="11.3" fill-opacity="0.157"/>
<circle cx="1521.9" cy="1952.1" r="11.3" fill-opacity="0.158"/>
<circle cx="1527.0" cy="1954.7" r="11.3" fill-opacity="0.160"/>
<circle cx="1532.1" cy="1957.2" r="11.3" fill-opacity="0.161"/>
<circle cx="1537.2" cy="1959.7" r="11.3" fill-opacity="0.162"/>
<circle cx="1542.3" cy="1962.0" r="11.3" fill-opacity="0.163"/>
<circle cx="1547.4" cy="1964.2" r="11.3" fill-opacity="0.165"/>
<circle cx="1552.5" cy="1966.4" r="11.3" fill-opacity="0.166"/>
<circle cx="1557.6" cy="1968.4" r="11.3" fill-opacity="0.167"/>
<circle cx="1562.7" cy="1970.4" r="11.3" fill-opacity="0.168"/>
<circle cx="1567.8" cy="1972.3" r="11.3" fill-opacity="0.169"/>
<circle cx="1572.9" cy="1974.1" r="11.3" fill-opacity="0.170"/>
<circle cx="1578.0" cy="1975.8" r="11.3" fill-opacity="0.171"/>
<circle cx="1583.1" cy="1977.5" r="11.3" fill-opacity="0.172"/>
<circle cx="1588.2" cy="1979.1" r="11.3" fill-opacity="0.173"/>
<circle cx="1593.3" cy="1980.6" r="11.3" fill-opacity="0.174"/>
<circle cx="1598.5" cy="1982.1" r="11.3" fill-opacity="0.175"/>
<circle cx="1603.6" cy="1983.5" r="11.3" fill-opacity="0.176"/>
<circle cx="1608.7" cy="1984.9" r="11.3" fill-opacity="0.177"/>
<circle cx="1613.8" cy="1986.2" r="11.3" fill-opacity="0.178"/>
<circle cx="1618.9" cy="1987.5" r="11.3" fill-opacity="0.179"/>
<circle cx="1624.0" cy="1988.7" r="11.3" fill-opacity="0.180"/>
<circle cx="1629.1" cy="1989.9" r="11.3" fill-opacity="0.181"/>
<circle cx="1634.2" cy="1991.1" r="11.3" fill-opacity="0.182"/>
<circle cx="1639.3" cy="1992.2" r="11.3" fill-opacity="0.183"/>
<circle cx="1644.4" cy="1993.2" r="11.3" fill-opacity="0.183"/>
<circle cx="1649.5" cy="1994.3" r="11.3" fill-opacity="0.184"/>
<circle cx="1654.6" cy="1995.3" r="11.3" fill-opacity="0.185"/>
<circle cx="1659.7" cy="1996.2" r="11.3" fill-opacity="0.186"/>
<circle cx="1664.8" cy="1997.2" r="11.3" fill-opacity="0.187"/>
<circle cx="1669.9" cy="1998.1" r="11.3" fill-opacity="0.187"/>
<circle cx="1675.0" cy="1999.0" r="11.3" fill-opacity="0.188"/>
<circle cx="1680.2" cy="1999.8" r="11.3" fill-opacity="0.189"/>
<circle cx="1685.3" cy="2000.7" r="11.3" fill-opacity="0.190"/>
<circle cx="1690.4" cy="2001.5" r="11.3" fill-opacity="0.190"/>
<circle cx="1695.5" cy="2002.3" r="11.3" fill-opacity="0.190"/>
<circle cx="1700.6" cy="2003.1" r="11.3" fill-opacity="0.190"/>
<circle cx="1705.7" cy="2003.9" r="11.3" fill-opacity="0.190"/>
<circle cx="1710.8" cy="2004.8" r="11.3" fill-opacity="0.190"/>
<circle cx="1715.9" cy="2005.6" r="11.3" fill-opacity="0.190"/>
<circle cx="1721.0" cy="2006.4" r="11.3" fill-opacity="0.190"/>
<circle cx="1726.1" cy="2007.3" r="11.3" fill-opacity="0.190"/>
<circle cx="1731.2" cy="2008.1" r="11.3" fill-opacity="0.190"/>
<circle cx="1736.3" cy="2008.9" r="11.3" fill-opacity="0.190"/>
<circle cx="1741.4" cy="2009.6" r="11.3" fill-opacity="0.190"/>
<circle cx="1746.5" cy="2010.4" r="11.3" fill-opacity="0.190"/>
<circle cx="1751.6" cy="2011.1" r="11.3" fill-opacity="0.190"/>
<circle cx="1756.7" cy="2011.8" r="11.3" fill-opacity="0.190"/>
<circle cx="1761.9" cy="2012.5" r="11.3" fill-opacity="0.190"/>
<circle cx="1767.0" cy="2013.1" r="11.3" fill-opacity="0.190"/>
<circle cx="1772.1" cy="2013.8" r="11.3" fill-opacity="0.190"/>
<circle cx="1777.2" cy="2014.4" r="11.3" fill-opacity="0.190"/>
<circle cx="1782.3" cy="2015.0" r="11.3" fill-opacity="0.190"/>
<circle cx="1787.4" cy="2015.6" r="11.3" fill-opacity="0.190"/>
<circle cx="1792.5" cy="2016.1" r="11.3" fill-opacity="0.190"/>
<circle cx="1797.6" cy="2016.7" r="11.3" fill-opacity="0.190"/>
<circle cx="1802.7" cy="2017.2" r="11.3" fill-opacity="0.190"/>
<circle cx="1807.8" cy="2017.7" r="11.3" fill-opacity="0.190"/>
<circle cx="1812.9" cy="2018.2" r="11.3" fill-opacity="0.190"/>
<circle cx="1818.0" cy="2018.7" r="11.3" fill-opacity="0.190"/>
<circle cx="1823.1" cy="2019.2" r="11.3" fill-opacity="0.190"/>
<circle cx="1828.2" cy="2019.6" r="11.3" fill-opacity="0.190"/>
<circle cx="1833.3" cy="2020.1" r="11.3" fill-opacity="0.190"/>
<circle cx="1838.4" cy="2020.5" r="11.3" fill-opacity="0.190"/>
<circle cx="1843.6" cy="2021.0" r="11.3" fill-opacity="0.190"/>
<circle cx="1848.7" cy="2021.4" r="11.3" fill-opacity="0.190"/>
<circle cx="1853.8" cy="2021.9" r="11.3" fill-opacity="0.190"/>
<circle cx="1858.9" cy="2022.3" r="11.3" fill-opacity="0.190"/>
<circle cx="1864.0" cy="2022.7" r="11.3" fill-opacity="0.190"/>
<circle cx="1869.1" cy="2023.1" r="11.3" fill-opacity="0.190"/>
<circle cx="1874.2" cy="2023.6" r="11.3" fill-opacity="0.190"/>
<circle cx="1879.3" cy="2024.0" r="11.3" fill-opacity="0.190"/>
<circle cx="1884.4" cy="2024.4" r="11.3" fill-opacity="0.190"/>
<circle cx="1889.5" cy="2024.8" r="11.3" fill-opacity="0.190"/>
<circle cx="1894.6" cy="2025.2" r="11.3" fill-opacity="0.190"/>
<circle cx="1899.7" cy="2025.6" r="11.3" fill-opacity="0.190"/>
<circle cx="1904.8" cy="2026.0" r="11.3" fill-opacity="0.190"/>
<circle cx="1909.9" cy="2026.4" r="11.3" fill-opacity="0.190"/>
<circle cx="1915.0" cy="2026.8" r="11.3" fill-opacity="0.190"/>
<circle cx="1920.1" cy="2027.2" r="11.3" fill-opacity="0.190"/>
<circle cx="1925.2" cy="2027.6" r="11.3" fill-opacity="0.190"/>
<circle cx="1930.4" cy="2028.0" r="11.3" fill-opacity="0.190"/>
<circle cx="1935.5" cy="2028.3" r="11.3" fill-opacity="0.190"/>
<circle cx="1940.6" cy="2028.7" r="11.3" fill-opacity="0.190"/>
<circle cx="1945.7" cy="2029.1" r="11.3" fill-opacity="0.190"/>
<circle cx="1950.8" cy="2029.4" r="11.3" fill-opacity="0.190"/>
<circle cx="1955.9" cy="2029.8" r="11.3" fill-opacity="0.190"/>
<circle cx="1961.0" cy="2030.1" r="11.3" fill-opacity="0.190"/>
<circle cx="1966.1" cy="2030.5" r="11.3" fill-opacity="0.190"/>
<circle cx="1971.2" cy="2030.8" r="11.3" fill-opacity="0.190"/>
<circle cx="1976.3" cy="2031.1" r="11.3" fill-opacity="0.190"/>
<circle cx="1981.4" cy="2031.4" r="11.3" fill-opacity="0.190"/>
<circle cx="1986.5" cy="2031.8" r="11.3" fill-opacity="0.190"/>
<circle cx="1991.6" cy="2032.1" r="11.3" fill-opacity="0.190"/>
<circle cx="1996.7" cy="2032.4" r="11.3" fill-opacity="0.190"/>
<circle cx="2001.8" cy="2032.7" r="11.3" fill-opacity="0.190"/>
<circle cx="2007.0" cy="2033.0" r="11.3" fill-opacity="0.190"/>
<circle cx="2012.1" cy="2033.3" r="11.3" fill-opacity="0.190"/>
<circle cx="2017.2" cy="2033.6" r="11.3" fill-opacity="0.190"/>
<circle cx="2022.3" cy="2033.8" r="11.3" fill-opacity="0.190"/>
<circle cx="2027.4" cy="2034.1" r="11.3" fill-opacity="0.190"/>
<circle cx="2032.5" cy="2034.4" r="11.3" fill-opacity="0.190"/>
<circle cx="2037.6" cy="2034.6" r="11.3" fill-opacity="0.190"/>
<circle cx="2042.7" cy="2034.9" r="11.3" fill-opacity="0.190"/>
<circle cx="2047.8" cy="2035.2" r="11.3" fill-opacity="0.190"/>
<circle cx="2052.9" cy="2035.4" r="11.3" fill-opacity="0.190"/>
<circle cx="2058.0" cy="2035.6" r="11.3" fill-opacity="0.190"/>
<circle cx="2063.1" cy="2035.9" r="11.3" fill-opacity="0.190"/>
</g>
<polyline fill="none" stroke="#000099" stroke-width="2.4" stroke-linejoin="round" points="1323.1,1178.1 1323.7,1187.4 1324.4,1196.8 1325.0,1206.3 1325.7,1215.9 1326.3,1225.6 1326.9,1235.2 1327.6,1244.9 1328.2,1254.5 1328.8,1264.1 1329.5,1273.7 1330.1,1283.2 1330.8,1292.6 1331.4,1301.9 1332.0,1311.2 1332.7,1320.4 1333.3,1329.5 1334.0,1338.6 1334.6,1347.5 1335.2,1356.3 1335.9,1365.0 1336.5,1373.6 1337.1,1382.2 1337.8,1390.6 1338.4,1398.9 1339.1,1407.0 1339.7,1415.1 1340.3,1423.1 1341.0,1431.0 1341.6,1438.8 1342.2,1446.6 1342.9,1454.2 1343.5,1461.8 1344.2,1469.3 1344.8,1476.7 1345.4,1484.1 1346.1,1491.4 1346.7,1498.6 1347.4,1505.8 1348.0,1512.9 1348.6,1520.0 1349.3,1527.0 1349.9,1533.9 1350.5,1540.7 1351.2,1547.3 1351.8,1553.7 1352.5,1559.9 1353.1,1565.8 1353.7,1571.5 1354.4,1576.8 1355.0,1582.0 1355.7,1586.9 1356.3,1591.7 1356.9,1596.5 1357.6,1601.2 1358.2,1605.9 1358.8,1610.7 1359.5,1615.5 1360.1,1620.5 1360.8,1625.4 1361.4,1630.4 1362.0,1635.3 1362.7,1640.1 1363.3,1644.8 1363.9,1649.4 1364.6,1653.8 1365.2,1658.0 1365.9,1662.1 1366.5,1666.0 1367.1,1669.9 1367.8,1673.6 1368.4,1677.2 1369.1,1680.8 1369.7,1684.3 1370.3,1687.7 1371.0,1691.1 1371.6,1694.4 1372.2,1697.7 1372.9,1700.9 1373.5,1704.2 1374.2,1707.4 1374.8,1710.6 1375.4,1713.8 1376.1,1717.0 1376.7,1720.2 1377.4,1723.3 1378.0,1726.4 1378.6,1729.5 1379.3,1732.5 1379.9,1735.4 1380.5,1738.3 1381.2,1741.1 1381.8,1743.8 1382.5,1746.5 1383.1,1749.1 1383.7,1751.6 1384.4,1754.0 1385.0,1756.4 1385.7,1758.7 1386.3,1760.9 1386.9,1763.1 1387.6,1765.3 1388.2,1767.4 1388.8,1769.6 1389.5,1771.8 1390.1,1774.0 1390.8,1776.3 1391.4,1778.5 1392.0,1780.8 1392.7,1783.1 1393.3,1785.3 1393.9,1787.5 1394.6,1789.7 1395.2,1791.8 1395.9,1793.9 1396.5,1796.0 1397.1,1798.1 1397.8,1800.1 1398.4,1802.1 1399.1,1804.0 1399.7,1805.9 1400.3,1807.8 1401.0,1809.6 1401.6,1811.4 1402.2,1813.2 1402.9,1815.0 1403.5,1816.7 1404.2,1818.4 1404.8,1820.0 1405.4,1821.7 1406.1,1823.3 1406.3,1823.7 1408.8,1829.9 1411.4,1835.7 1413.9,1841.2 1416.5,1846.4 1419.0,1851.4 1421.6,1856.1 1424.1,1860.7 1426.7,1865.1 1429.2,1869.3 1431.8,1873.3 1434.3,1877.2 1436.9,1881.0 1439.4,1884.6 1442.0,1888.1 1444.6,1891.4 1447.1,1894.6 1449.7,1897.6 1452.2,1900.6 1454.8,1903.4 1457.3,1906.1 1459.9,1908.7 1462.4,1911.2 1465.0,1913.6 1467.5,1915.9 1470.1,1918.1 1472.6,1920.2 1475.2,1922.3 1477.7,1924.3 1480.3,1926.3 1482.8,1928.2 1485.4,1930.0 1488.0,1931.8 1490.5,1933.5 1493.1,1935.2 1495.6,1936.9 1498.2,1938.5 1500.7,1940.1 1503.3,1941.7 1505.8,1943.2 1508.4,1944.7 1510.9,1946.1 1513.5,1947.6 1516.0,1949.0 1518.6,1950.4 1521.1,1951.7 1523.7,1953.0 1526.3,1954.3 1528.8,1955.6 1531.4,1956.9 1533.9,1958.1 1536.5,1959.3 1539.0,1960.5 1541.6,1961.7 1544.1,1962.8 1546.7,1963.9 1549.2,1965.0 1551.8,1966.1 1554.3,1967.1 1556.9,1968.1 1559.4,1969.1 1562.0,1970.1 1564.5,1971.1 1567.1,1972.0 1569.7,1972.9 1572.2,1973.8 1574.8,1974.7 1577.3,1975.6 1579.9,1976.4 1582.4,1977.2 1585.0,1978.1 1587.5,1978.9 1590.1,1979.6 1592.6,1980.4 1595.2,1981.2 1597.7,1981.9 1600.3,1982.6 1602.8,1983.3 1605.4,1984.0 1608.0,1984.7 1610.5,1985.4 1613.1,1986.0 1615.6,1986.7 1618.2,1987.3 1620.7,1987.9 1623.3,1988.6 1625.8,1989.2 1628.4,1989.7 1630.9,1990.3 1633.5,1990.9 1636.0,1991.5 1638.6,1992.0 1641.1,1992.6 1643.7,1993.1 1646.2,1993.6 1648.8,1994.1 1651.4,1994.6 1653.9,1995.1 1656.5,1995.6 1659.0,1996.1 1661.6,1996.6 1664.1,1997.1 1666.7,1997.5 1669.2,1998.0 1671.8,1998.4 1674.3,1998.9 1676.9,1999.3 1679.4,1999.7 1682.0,2000.1 1684.5,2000.6 1687.1,2001.0 1689.7,2001.4 1692.2,2001.8 1694.8,2002.2 1697.3,2002.6 1699.9,2003.0 1702.4,2003.4 1705.0,2003.8 1707.5,2004.2 1710.1,2004.6 1712.6,2005.1 1715.2,2005.5 1717.7,2005.9 1720.3,2006.3 1722.8,2006.7 1725.4,2007.1 1727.9,2007.6 1730.5,2008.0 1733.1,2008.4 1735.6,2008.8 1738.2,2009.1 1740.7,2009.5 1743.3,2009.9 1745.8,2010.3 1748.4,2010.6 1750.9,2011.0 1753.5,2011.4 1756.0,2011.7 1758.6,2012.1 1761.1,2012.4 1763.7,2012.7 1766.2,2013.1 1768.8,2013.4 1771.4,2013.7 1773.9,2014.0 1776.5,2014.3 1779.0,2014.6 1781.6,2014.9 1784.1,2015.2 1786.7,2015.5 1789.2,2015.8 1791.8,2016.0 1794.3,2016.3 1796.9,2016.6 1799.4,2016.9 1802.0,2017.1 1804.5,2017.4 1807.1,2017.6 1809.6,2017.9 1812.2,2018.1 1814.8,2018.4 1817.3,2018.6 1819.9,2018.9 1822.4,2019.1 1825.0,2019.3 1827.5,2019.6 1830.1,2019.8 1832.6,2020.0 1835.2,2020.3 1837.7,2020.5 1840.3,2020.7 1842.8,2020.9 1845.4,2021.2 1847.9,2021.4 1850.5,2021.6 1853.1,2021.8 1855.6,2022.0 1858.2,2022.2 1860.7,2022.5 1863.3,2022.7 1865.8,2022.9 1868.4,2023.1 1870.9,2023.3 1873.5,2023.5 1876.0,2023.7 1878.6,2023.9 1881.1,2024.1 1883.7,2024.3 1886.2,2024.6 1888.8,2024.8 1891.3,2025.0 1893.9,2025.2 1896.5,2025.4 1899.0,2025.6 1901.6,2025.8 1904.1,2026.0 1906.7,2026.2 1909.2,2026.4 1911.8,2026.6 1914.3,2026.8 1916.9,2027.0 1919.4,2027.1 1922.0,2027.3 1924.5,2027.5 1927.1,2027.7 1929.6,2027.9 1932.2,2028.1 1934.8,2028.3 1937.3,2028.5 1939.9,2028.6 1942.4,2028.8 1945.0,2029.0 1947.5,2029.2 1950.1,2029.4 1952.6,2029.5 1955.2,2029.7 1957.7,2029.9 1960.3,2030.1 1962.8,2030.2 1965.4,2030.4 1967.9,2030.6 1970.5,2030.7 1973.0,2030.9 1975.6,2031.1 1978.2,2031.2 1980.7,2031.4 1983.3,2031.6 1985.8,2031.7 1988.4,2031.9 1990.9,2032.0 1993.5,2032.2 1996.0,2032.3 1998.6,2032.5 2001.1,2032.6 2003.7,2032.8 2006.2,2032.9 2008.8,2033.1 2011.3,2033.2 2013.9,2033.4 2016.5,2033.5 2019.0,2033.7 2021.6,2033.8 2024.1,2033.9 2026.7,2034.1 2029.2,2034.2 2031.8,2034.3 2034.3,2034.5 2036.9,2034.6 2039.4,2034.7 2042.0,2034.9 2044.5,2035.0 2047.1,2035.1 2049.6,2035.2 2052.2,2035.4 2054.8,2035.5 2057.3,2035.6 2059.9,2035.7 2062.4,2035.8 2065.0,2036.0 2067.5,2036.1 2070.1,2036.2"/>
<rect x="1278.6" y="1125.5" width="817.0" height="937.7" fill="none" stroke="#000" stroke-width="2.8"/>
<path d="M1304.1 2063.2V2078.2M1368.0 2063.2V2071.2M1431.8 2063.2V2078.2M1495.6 2063.2V2071.2M1559.4 2063.2V2078.2M1623.3 2063.2V2071.2M1687.1 2063.2V2078.2M1750.9 2063.2V2071.2M1814.8 2063.2V2078.2M1878.6 2063.2V2071.2M1942.4 2063.2V2078.2M2006.2 2063.2V2071.2M2070.1 2063.2V2078.2M1278.6 1995.8H1263.6M1278.6 1883.4H1263.6M1278.6 1771.0H1263.6M1278.6 1658.7H1263.6M1278.6 1546.3H1263.6M1278.6 1433.9H1263.6M1278.6 1321.6H1263.6M1278.6 1209.2H1263.6" stroke="#000" stroke-width="2.8" fill="none"/>
<g font-family='"Liberation Sans", Arial, "Noto Sans CJK SC", sans-serif' font-size="34" fill="#000" text-anchor="middle">
<text transform="translate(1304.1 2113.5) scale(1 1.040)">0</text>
<text transform="translate(1431.8 2113.5) scale(1 1.040)">50</text>
<text transform="translate(1559.4 2113.5) scale(1 1.040)">100</text>
<text transform="translate(1687.1 2113.5) scale(1 1.040)">150</text>
<text transform="translate(1814.8 2113.5) scale(1 1.040)">200</text>
<text transform="translate(1942.4 2113.5) scale(1 1.040)">250</text>
<text transform="translate(2070.1 2113.5) scale(1 1.040)">300</text>
</g>
<g font-family='"Liberation Sans", Arial, "Noto Sans CJK SC", sans-serif' font-size="34" fill="#000" text-anchor="end">
<text transform="translate(1253.4 2008.1) scale(1 1.040)">2.0x10<tspan font-size="20.3" dy="-16.6">-1</tspan></text>
<text transform="translate(1253.4 1895.7) scale(1 1.040)">4.0x10<tspan font-size="20.3" dy="-16.6">-1</tspan></text>
<text transform="translate(1253.4 1783.3) scale(1 1.040)">6.0x10<tspan font-size="20.3" dy="-16.6">-1</tspan></text>
<text transform="translate(1253.4 1671.0) scale(1 1.040)">8.0x10<tspan font-size="20.3" dy="-16.6">-1</tspan></text>
<text transform="translate(1253.4 1558.6) scale(1 1.040)">1.0x10<tspan font-size="20.3" dy="-16.6">0</tspan></text>
<text transform="translate(1253.4 1446.2) scale(1 1.040)">1.2x10<tspan font-size="20.3" dy="-16.6">0</tspan></text>
<text transform="translate(1253.4 1333.9) scale(1 1.040)">1.4x10<tspan font-size="20.3" dy="-16.6">0</tspan></text>
<text transform="translate(1253.4 1221.5) scale(1 1.040)">1.6x10<tspan font-size="20.3" dy="-16.6">0</tspan></text>
</g>
<text transform="translate(1687.1 2153.9) scale(1 1.040)" font-family='"Liberation Sans", Arial, "Noto Sans CJK SC", sans-serif' font-size="41.5" text-anchor="middle">T (K)</text>
<text transform="translate(1117.2 1594.3) rotate(-90) scale(1 1.040)" font-family='"Liberation Sans", Arial, "Noto Sans CJK SC", sans-serif' font-size="41.5" text-anchor="middle">ρ (Ω·m)</text>
<text transform="translate(1643.0 1616.0) scale(1 1.040)" font-family='"Liberation Sans", Arial, "Noto Sans CJK SC", sans-serif' font-size="41.3">25 GPa,1200°C,1h</text>
<text transform="translate(1076.5 1125.8) scale(1 1.040)" font-family='"Liberation Sans", Arial, "Noto Sans CJK SC", sans-serif' font-size="59" font-weight="bold">d</text>
<defs><radialGradient id="bg" cx="0.55" cy="0.62" r="0.75"><stop offset="0" stop-color="#a8a8a8"/><stop offset="0.6" stop-color="#a2a2a2"/><stop offset="1" stop-color="#9a9a9a"/></radialGradient><radialGradient id="glow" cx="0.5" cy="0.5" r="0.5"><stop offset="0" stop-color="#fff" stop-opacity="0.95"/><stop offset="1" stop-color="#fff" stop-opacity="0"/></radialGradient><linearGradient id="cry" x1="0" y1="0" x2="0" y2="1"><stop offset="0" stop-color="#3c3c3c"/><stop offset="0.45" stop-color="#4a4a4a"/><stop offset="0.6" stop-color="#5e5e5e"/><stop offset="1" stop-color="#404040"/></linearGradient><filter id="blur1" x="-10%" y="-100%" width="120%" height="300%"><feGaussianBlur stdDeviation="1.4"/></filter><filter id="blur2" x="-20%" y="-200%" width="140%" height="500%"><feGaussianBlur stdDeviation="3.5"/></filter></defs>
<rect x="1527.8" y="1188.3" width="538.7" height="277.7" fill="url(#bg)"/>
<ellipse cx="1790" cy="1342" rx="95" ry="7" fill="#fff" opacity="0.09" filter="url(#blur2)"/>
<path d="M1590 1318 L1625 1315.5 L1625 1320.5 Z M1950 1321 L1998 1326 L1950 1328.5 Z" fill="#6e6e6e" opacity="0.6" filter="url(#blur1)"/>
<g filter="url(#blur1)"><path d="M1607 1317.5 C1650 1313 1705 1309.5 1757 1308 C1810 1308.5 1868 1313 1920 1317 C1950 1319.5 1972 1322.5 1985 1325 C1958 1327.5 1912 1330 1865 1332 C1825 1334 1792 1335.5 1762 1335.5 C1708 1333.5 1652 1325 1607 1317.5 Z" fill="url(#cry)"/><path d="M1665 1315 C1712 1311 1760 1310 1810 1312.5 C1760 1316 1712 1317 1665 1315 Z" fill="#2e2e2e"/><path d="M1700 1324 C1760 1322 1820 1322 1880 1324 C1820 1326.5 1760 1326.5 1700 1324 Z" fill="#6e6e6e" opacity="0.8"/></g>
<circle cx="1748.5" cy="1296" r="1.6" fill="#777" filter="url(#blur1)"/>
<ellipse cx="1866" cy="1341" rx="16" ry="8.5" fill="url(#glow)" opacity="0.9"/>
<ellipse cx="1828" cy="1338.5" rx="4.5" ry="7.5" fill="url(#glow)" opacity="0.65"/>
<rect x="1902.8" y="1435.4" width="138.1" height="5.8" fill="#fff"/>
<text transform="translate(1909.5 1422.8) scale(1 1.040)" font-family='"Liberation Sans", Arial, "Noto Sans CJK SC", sans-serif' font-size="41.5" fill="#fff">10 μm</text>
</svg>
</body></html>
